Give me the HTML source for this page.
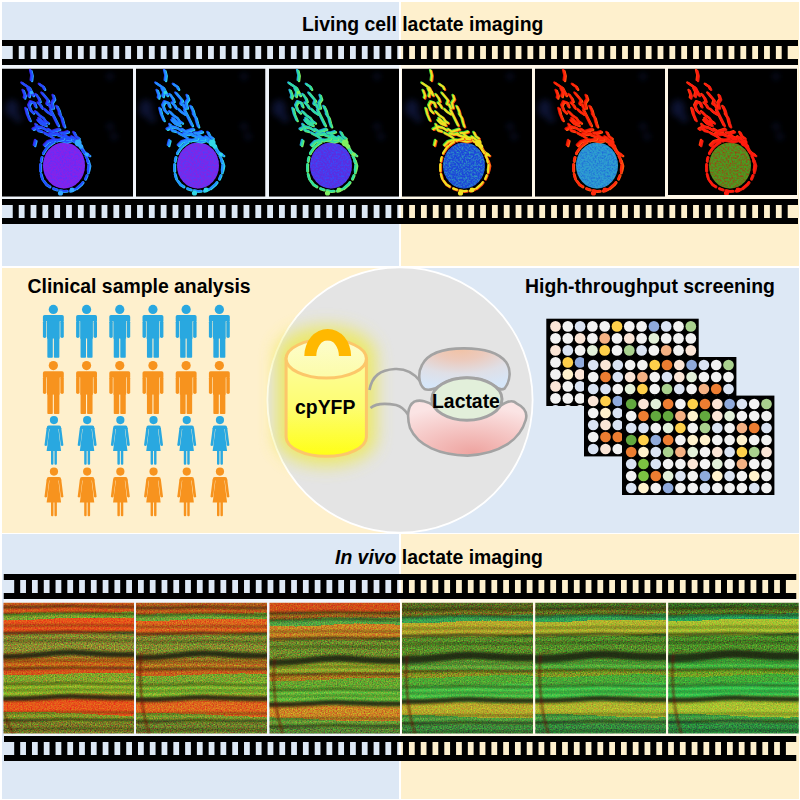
<!DOCTYPE html>
<html><head><meta charset="utf-8"><style>
html,body{margin:0;padding:0}
body{width:800px;height:800px;position:relative;overflow:hidden;background:#fff;font-family:'Liberation Sans', sans-serif}
</style></head><body>
<div style="position:absolute;left:1.5px;top:1.5px;width:397.5px;height:264.5px;background:#dde8f5;"></div>
<div style="position:absolute;left:401px;top:1.5px;width:398px;height:264.5px;background:#fef0cd;"></div>
<div style="position:absolute;left:1.5px;top:267.5px;width:397.5px;height:265.0px;background:#fef0cd;"></div>
<div style="position:absolute;left:401px;top:267.5px;width:398px;height:265.0px;background:#dde8f5;"></div>
<div style="position:absolute;left:1.5px;top:534px;width:397.5px;height:264.5px;background:#dde8f5;"></div>
<div style="position:absolute;left:401px;top:534px;width:398px;height:264.5px;background:#fef0cd;"></div>
<div style="position:absolute;left:2px;top:65.3px;width:796px;height:133.7px;background:rgba(255,255,255,0.55);"></div>
<div style="position:absolute;left:3.5px;top:598.6px;width:795.2px;height:137.39999999999998px;background:rgba(255,255,255,0.55);"></div>
<svg style="position:absolute;left:0;top:40.3px" width="800" height="25" viewBox="0 0 800 25"><rect x="2" y="0" width="796" height="6" fill="#000"/><rect x="2" y="19" width="796" height="6" fill="#000"/><rect x="12.75" y="5" width="6.0" height="15" fill="#000"/><rect x="24.58" y="5" width="6.0" height="15" fill="#000"/><rect x="36.41" y="5" width="6.0" height="15" fill="#000"/><rect x="48.24" y="5" width="6.0" height="15" fill="#000"/><rect x="60.07" y="5" width="6.0" height="15" fill="#000"/><rect x="71.90" y="5" width="6.0" height="15" fill="#000"/><rect x="83.73" y="5" width="6.0" height="15" fill="#000"/><rect x="95.56" y="5" width="6.0" height="15" fill="#000"/><rect x="107.39" y="5" width="6.0" height="15" fill="#000"/><rect x="119.22" y="5" width="6.0" height="15" fill="#000"/><rect x="131.05" y="5" width="6.0" height="15" fill="#000"/><rect x="142.88" y="5" width="6.0" height="15" fill="#000"/><rect x="154.71" y="5" width="6.0" height="15" fill="#000"/><rect x="166.54" y="5" width="6.0" height="15" fill="#000"/><rect x="178.37" y="5" width="6.0" height="15" fill="#000"/><rect x="190.20" y="5" width="6.0" height="15" fill="#000"/><rect x="202.03" y="5" width="6.0" height="15" fill="#000"/><rect x="213.86" y="5" width="6.0" height="15" fill="#000"/><rect x="225.69" y="5" width="6.0" height="15" fill="#000"/><rect x="237.52" y="5" width="6.0" height="15" fill="#000"/><rect x="249.35" y="5" width="6.0" height="15" fill="#000"/><rect x="261.18" y="5" width="6.0" height="15" fill="#000"/><rect x="273.01" y="5" width="6.0" height="15" fill="#000"/><rect x="284.84" y="5" width="6.0" height="15" fill="#000"/><rect x="296.67" y="5" width="6.0" height="15" fill="#000"/><rect x="308.50" y="5" width="6.0" height="15" fill="#000"/><rect x="320.33" y="5" width="6.0" height="15" fill="#000"/><rect x="332.16" y="5" width="6.0" height="15" fill="#000"/><rect x="343.99" y="5" width="6.0" height="15" fill="#000"/><rect x="355.82" y="5" width="6.0" height="15" fill="#000"/><rect x="367.65" y="5" width="6.0" height="15" fill="#000"/><rect x="379.48" y="5" width="6.0" height="15" fill="#000"/><rect x="391.31" y="5" width="6.0" height="15" fill="#000"/><rect x="403.14" y="5" width="6.0" height="15" fill="#000"/><rect x="414.97" y="5" width="6.0" height="15" fill="#000"/><rect x="426.80" y="5" width="6.0" height="15" fill="#000"/><rect x="438.63" y="5" width="6.0" height="15" fill="#000"/><rect x="450.46" y="5" width="6.0" height="15" fill="#000"/><rect x="462.29" y="5" width="6.0" height="15" fill="#000"/><rect x="474.12" y="5" width="6.0" height="15" fill="#000"/><rect x="485.95" y="5" width="6.0" height="15" fill="#000"/><rect x="497.78" y="5" width="6.0" height="15" fill="#000"/><rect x="509.61" y="5" width="6.0" height="15" fill="#000"/><rect x="521.44" y="5" width="6.0" height="15" fill="#000"/><rect x="533.27" y="5" width="6.0" height="15" fill="#000"/><rect x="545.10" y="5" width="6.0" height="15" fill="#000"/><rect x="556.93" y="5" width="6.0" height="15" fill="#000"/><rect x="568.76" y="5" width="6.0" height="15" fill="#000"/><rect x="580.59" y="5" width="6.0" height="15" fill="#000"/><rect x="592.42" y="5" width="6.0" height="15" fill="#000"/><rect x="604.25" y="5" width="6.0" height="15" fill="#000"/><rect x="616.08" y="5" width="6.0" height="15" fill="#000"/><rect x="627.91" y="5" width="6.0" height="15" fill="#000"/><rect x="639.74" y="5" width="6.0" height="15" fill="#000"/><rect x="651.57" y="5" width="6.0" height="15" fill="#000"/><rect x="663.40" y="5" width="6.0" height="15" fill="#000"/><rect x="675.23" y="5" width="6.0" height="15" fill="#000"/><rect x="687.06" y="5" width="6.0" height="15" fill="#000"/><rect x="698.89" y="5" width="6.0" height="15" fill="#000"/><rect x="710.72" y="5" width="6.0" height="15" fill="#000"/><rect x="722.55" y="5" width="6.0" height="15" fill="#000"/><rect x="734.38" y="5" width="6.0" height="15" fill="#000"/><rect x="746.21" y="5" width="6.0" height="15" fill="#000"/><rect x="758.04" y="5" width="6.0" height="15" fill="#000"/><rect x="769.87" y="5" width="6.0" height="15" fill="#000"/><rect x="781.70" y="5" width="6.0" height="15" fill="#000"/></svg>
<svg style="position:absolute;left:0;top:199px" width="800" height="25" viewBox="0 0 800 25"><rect x="2" y="0" width="796" height="6" fill="#000"/><rect x="2" y="19" width="796" height="6" fill="#000"/><rect x="12.75" y="5" width="6.0" height="15" fill="#000"/><rect x="24.58" y="5" width="6.0" height="15" fill="#000"/><rect x="36.41" y="5" width="6.0" height="15" fill="#000"/><rect x="48.24" y="5" width="6.0" height="15" fill="#000"/><rect x="60.07" y="5" width="6.0" height="15" fill="#000"/><rect x="71.90" y="5" width="6.0" height="15" fill="#000"/><rect x="83.73" y="5" width="6.0" height="15" fill="#000"/><rect x="95.56" y="5" width="6.0" height="15" fill="#000"/><rect x="107.39" y="5" width="6.0" height="15" fill="#000"/><rect x="119.22" y="5" width="6.0" height="15" fill="#000"/><rect x="131.05" y="5" width="6.0" height="15" fill="#000"/><rect x="142.88" y="5" width="6.0" height="15" fill="#000"/><rect x="154.71" y="5" width="6.0" height="15" fill="#000"/><rect x="166.54" y="5" width="6.0" height="15" fill="#000"/><rect x="178.37" y="5" width="6.0" height="15" fill="#000"/><rect x="190.20" y="5" width="6.0" height="15" fill="#000"/><rect x="202.03" y="5" width="6.0" height="15" fill="#000"/><rect x="213.86" y="5" width="6.0" height="15" fill="#000"/><rect x="225.69" y="5" width="6.0" height="15" fill="#000"/><rect x="237.52" y="5" width="6.0" height="15" fill="#000"/><rect x="249.35" y="5" width="6.0" height="15" fill="#000"/><rect x="261.18" y="5" width="6.0" height="15" fill="#000"/><rect x="273.01" y="5" width="6.0" height="15" fill="#000"/><rect x="284.84" y="5" width="6.0" height="15" fill="#000"/><rect x="296.67" y="5" width="6.0" height="15" fill="#000"/><rect x="308.50" y="5" width="6.0" height="15" fill="#000"/><rect x="320.33" y="5" width="6.0" height="15" fill="#000"/><rect x="332.16" y="5" width="6.0" height="15" fill="#000"/><rect x="343.99" y="5" width="6.0" height="15" fill="#000"/><rect x="355.82" y="5" width="6.0" height="15" fill="#000"/><rect x="367.65" y="5" width="6.0" height="15" fill="#000"/><rect x="379.48" y="5" width="6.0" height="15" fill="#000"/><rect x="391.31" y="5" width="6.0" height="15" fill="#000"/><rect x="403.14" y="5" width="6.0" height="15" fill="#000"/><rect x="414.97" y="5" width="6.0" height="15" fill="#000"/><rect x="426.80" y="5" width="6.0" height="15" fill="#000"/><rect x="438.63" y="5" width="6.0" height="15" fill="#000"/><rect x="450.46" y="5" width="6.0" height="15" fill="#000"/><rect x="462.29" y="5" width="6.0" height="15" fill="#000"/><rect x="474.12" y="5" width="6.0" height="15" fill="#000"/><rect x="485.95" y="5" width="6.0" height="15" fill="#000"/><rect x="497.78" y="5" width="6.0" height="15" fill="#000"/><rect x="509.61" y="5" width="6.0" height="15" fill="#000"/><rect x="521.44" y="5" width="6.0" height="15" fill="#000"/><rect x="533.27" y="5" width="6.0" height="15" fill="#000"/><rect x="545.10" y="5" width="6.0" height="15" fill="#000"/><rect x="556.93" y="5" width="6.0" height="15" fill="#000"/><rect x="568.76" y="5" width="6.0" height="15" fill="#000"/><rect x="580.59" y="5" width="6.0" height="15" fill="#000"/><rect x="592.42" y="5" width="6.0" height="15" fill="#000"/><rect x="604.25" y="5" width="6.0" height="15" fill="#000"/><rect x="616.08" y="5" width="6.0" height="15" fill="#000"/><rect x="627.91" y="5" width="6.0" height="15" fill="#000"/><rect x="639.74" y="5" width="6.0" height="15" fill="#000"/><rect x="651.57" y="5" width="6.0" height="15" fill="#000"/><rect x="663.40" y="5" width="6.0" height="15" fill="#000"/><rect x="675.23" y="5" width="6.0" height="15" fill="#000"/><rect x="687.06" y="5" width="6.0" height="15" fill="#000"/><rect x="698.89" y="5" width="6.0" height="15" fill="#000"/><rect x="710.72" y="5" width="6.0" height="15" fill="#000"/><rect x="722.55" y="5" width="6.0" height="15" fill="#000"/><rect x="734.38" y="5" width="6.0" height="15" fill="#000"/><rect x="746.21" y="5" width="6.0" height="15" fill="#000"/><rect x="758.04" y="5" width="6.0" height="15" fill="#000"/><rect x="769.87" y="5" width="6.0" height="15" fill="#000"/><rect x="781.70" y="5" width="6.0" height="15" fill="#000"/></svg>
<svg style="position:absolute;left:0;top:574.3px" width="800" height="25" viewBox="0 0 800 25"><rect x="3.75" y="0" width="792.5" height="6" fill="#000"/><rect x="3.75" y="19" width="792.5" height="6" fill="#000"/><rect x="14.20" y="5" width="6.0" height="15" fill="#000"/><rect x="25.98" y="5" width="6.0" height="15" fill="#000"/><rect x="37.76" y="5" width="6.0" height="15" fill="#000"/><rect x="49.54" y="5" width="6.0" height="15" fill="#000"/><rect x="61.32" y="5" width="6.0" height="15" fill="#000"/><rect x="73.10" y="5" width="6.0" height="15" fill="#000"/><rect x="84.88" y="5" width="6.0" height="15" fill="#000"/><rect x="96.66" y="5" width="6.0" height="15" fill="#000"/><rect x="108.44" y="5" width="6.0" height="15" fill="#000"/><rect x="120.22" y="5" width="6.0" height="15" fill="#000"/><rect x="132.00" y="5" width="6.0" height="15" fill="#000"/><rect x="143.78" y="5" width="6.0" height="15" fill="#000"/><rect x="155.56" y="5" width="6.0" height="15" fill="#000"/><rect x="167.34" y="5" width="6.0" height="15" fill="#000"/><rect x="179.12" y="5" width="6.0" height="15" fill="#000"/><rect x="190.90" y="5" width="6.0" height="15" fill="#000"/><rect x="202.68" y="5" width="6.0" height="15" fill="#000"/><rect x="214.46" y="5" width="6.0" height="15" fill="#000"/><rect x="226.24" y="5" width="6.0" height="15" fill="#000"/><rect x="238.02" y="5" width="6.0" height="15" fill="#000"/><rect x="249.80" y="5" width="6.0" height="15" fill="#000"/><rect x="261.58" y="5" width="6.0" height="15" fill="#000"/><rect x="273.36" y="5" width="6.0" height="15" fill="#000"/><rect x="285.14" y="5" width="6.0" height="15" fill="#000"/><rect x="296.92" y="5" width="6.0" height="15" fill="#000"/><rect x="308.70" y="5" width="6.0" height="15" fill="#000"/><rect x="320.48" y="5" width="6.0" height="15" fill="#000"/><rect x="332.26" y="5" width="6.0" height="15" fill="#000"/><rect x="344.04" y="5" width="6.0" height="15" fill="#000"/><rect x="355.82" y="5" width="6.0" height="15" fill="#000"/><rect x="367.60" y="5" width="6.0" height="15" fill="#000"/><rect x="379.38" y="5" width="6.0" height="15" fill="#000"/><rect x="391.16" y="5" width="6.0" height="15" fill="#000"/><rect x="402.94" y="5" width="6.0" height="15" fill="#000"/><rect x="414.72" y="5" width="6.0" height="15" fill="#000"/><rect x="426.50" y="5" width="6.0" height="15" fill="#000"/><rect x="438.28" y="5" width="6.0" height="15" fill="#000"/><rect x="450.06" y="5" width="6.0" height="15" fill="#000"/><rect x="461.84" y="5" width="6.0" height="15" fill="#000"/><rect x="473.62" y="5" width="6.0" height="15" fill="#000"/><rect x="485.40" y="5" width="6.0" height="15" fill="#000"/><rect x="497.18" y="5" width="6.0" height="15" fill="#000"/><rect x="508.96" y="5" width="6.0" height="15" fill="#000"/><rect x="520.74" y="5" width="6.0" height="15" fill="#000"/><rect x="532.52" y="5" width="6.0" height="15" fill="#000"/><rect x="544.30" y="5" width="6.0" height="15" fill="#000"/><rect x="556.08" y="5" width="6.0" height="15" fill="#000"/><rect x="567.86" y="5" width="6.0" height="15" fill="#000"/><rect x="579.64" y="5" width="6.0" height="15" fill="#000"/><rect x="591.42" y="5" width="6.0" height="15" fill="#000"/><rect x="603.20" y="5" width="6.0" height="15" fill="#000"/><rect x="614.98" y="5" width="6.0" height="15" fill="#000"/><rect x="626.76" y="5" width="6.0" height="15" fill="#000"/><rect x="638.54" y="5" width="6.0" height="15" fill="#000"/><rect x="650.32" y="5" width="6.0" height="15" fill="#000"/><rect x="662.10" y="5" width="6.0" height="15" fill="#000"/><rect x="673.88" y="5" width="6.0" height="15" fill="#000"/><rect x="685.66" y="5" width="6.0" height="15" fill="#000"/><rect x="697.44" y="5" width="6.0" height="15" fill="#000"/><rect x="709.22" y="5" width="6.0" height="15" fill="#000"/><rect x="721.00" y="5" width="6.0" height="15" fill="#000"/><rect x="732.78" y="5" width="6.0" height="15" fill="#000"/><rect x="744.56" y="5" width="6.0" height="15" fill="#000"/><rect x="756.34" y="5" width="6.0" height="15" fill="#000"/><rect x="768.12" y="5" width="6.0" height="15" fill="#000"/><rect x="779.90" y="5" width="6.0" height="15" fill="#000"/></svg>
<svg style="position:absolute;left:0;top:736px" width="800" height="25" viewBox="0 0 800 25"><rect x="4" y="0" width="792.25" height="6" fill="#000"/><rect x="4" y="19" width="792.25" height="6" fill="#000"/><rect x="14.20" y="5" width="6.0" height="15" fill="#000"/><rect x="25.98" y="5" width="6.0" height="15" fill="#000"/><rect x="37.76" y="5" width="6.0" height="15" fill="#000"/><rect x="49.54" y="5" width="6.0" height="15" fill="#000"/><rect x="61.32" y="5" width="6.0" height="15" fill="#000"/><rect x="73.10" y="5" width="6.0" height="15" fill="#000"/><rect x="84.88" y="5" width="6.0" height="15" fill="#000"/><rect x="96.66" y="5" width="6.0" height="15" fill="#000"/><rect x="108.44" y="5" width="6.0" height="15" fill="#000"/><rect x="120.22" y="5" width="6.0" height="15" fill="#000"/><rect x="132.00" y="5" width="6.0" height="15" fill="#000"/><rect x="143.78" y="5" width="6.0" height="15" fill="#000"/><rect x="155.56" y="5" width="6.0" height="15" fill="#000"/><rect x="167.34" y="5" width="6.0" height="15" fill="#000"/><rect x="179.12" y="5" width="6.0" height="15" fill="#000"/><rect x="190.90" y="5" width="6.0" height="15" fill="#000"/><rect x="202.68" y="5" width="6.0" height="15" fill="#000"/><rect x="214.46" y="5" width="6.0" height="15" fill="#000"/><rect x="226.24" y="5" width="6.0" height="15" fill="#000"/><rect x="238.02" y="5" width="6.0" height="15" fill="#000"/><rect x="249.80" y="5" width="6.0" height="15" fill="#000"/><rect x="261.58" y="5" width="6.0" height="15" fill="#000"/><rect x="273.36" y="5" width="6.0" height="15" fill="#000"/><rect x="285.14" y="5" width="6.0" height="15" fill="#000"/><rect x="296.92" y="5" width="6.0" height="15" fill="#000"/><rect x="308.70" y="5" width="6.0" height="15" fill="#000"/><rect x="320.48" y="5" width="6.0" height="15" fill="#000"/><rect x="332.26" y="5" width="6.0" height="15" fill="#000"/><rect x="344.04" y="5" width="6.0" height="15" fill="#000"/><rect x="355.82" y="5" width="6.0" height="15" fill="#000"/><rect x="367.60" y="5" width="6.0" height="15" fill="#000"/><rect x="379.38" y="5" width="6.0" height="15" fill="#000"/><rect x="391.16" y="5" width="6.0" height="15" fill="#000"/><rect x="402.94" y="5" width="6.0" height="15" fill="#000"/><rect x="414.72" y="5" width="6.0" height="15" fill="#000"/><rect x="426.50" y="5" width="6.0" height="15" fill="#000"/><rect x="438.28" y="5" width="6.0" height="15" fill="#000"/><rect x="450.06" y="5" width="6.0" height="15" fill="#000"/><rect x="461.84" y="5" width="6.0" height="15" fill="#000"/><rect x="473.62" y="5" width="6.0" height="15" fill="#000"/><rect x="485.40" y="5" width="6.0" height="15" fill="#000"/><rect x="497.18" y="5" width="6.0" height="15" fill="#000"/><rect x="508.96" y="5" width="6.0" height="15" fill="#000"/><rect x="520.74" y="5" width="6.0" height="15" fill="#000"/><rect x="532.52" y="5" width="6.0" height="15" fill="#000"/><rect x="544.30" y="5" width="6.0" height="15" fill="#000"/><rect x="556.08" y="5" width="6.0" height="15" fill="#000"/><rect x="567.86" y="5" width="6.0" height="15" fill="#000"/><rect x="579.64" y="5" width="6.0" height="15" fill="#000"/><rect x="591.42" y="5" width="6.0" height="15" fill="#000"/><rect x="603.20" y="5" width="6.0" height="15" fill="#000"/><rect x="614.98" y="5" width="6.0" height="15" fill="#000"/><rect x="626.76" y="5" width="6.0" height="15" fill="#000"/><rect x="638.54" y="5" width="6.0" height="15" fill="#000"/><rect x="650.32" y="5" width="6.0" height="15" fill="#000"/><rect x="662.10" y="5" width="6.0" height="15" fill="#000"/><rect x="673.88" y="5" width="6.0" height="15" fill="#000"/><rect x="685.66" y="5" width="6.0" height="15" fill="#000"/><rect x="697.44" y="5" width="6.0" height="15" fill="#000"/><rect x="709.22" y="5" width="6.0" height="15" fill="#000"/><rect x="721.00" y="5" width="6.0" height="15" fill="#000"/><rect x="732.78" y="5" width="6.0" height="15" fill="#000"/><rect x="744.56" y="5" width="6.0" height="15" fill="#000"/><rect x="756.34" y="5" width="6.0" height="15" fill="#000"/><rect x="768.12" y="5" width="6.0" height="15" fill="#000"/><rect x="779.90" y="5" width="6.0" height="15" fill="#000"/></svg>
<svg style="position:absolute;left:0;top:0" width="800" height="800"><defs><filter id="mblur" x="-10%" y="-10%" width="120%" height="120%"><feGaussianBlur stdDeviation="0.45"/></filter><filter id="bblur" x="-50%" y="-50%" width="200%" height="200%"><feGaussianBlur stdDeviation="3"/></filter><filter id="speck" x="0" y="0" width="100%" height="100%"><feTurbulence type="fractalNoise" baseFrequency="0.55" numOctaves="2" seed="3" result="n"/><feColorMatrix in="n" type="matrix" values="0 0 0 0 0  0 0 0 0 0  0 0 0 0 0  0 0 0 -2.2 1.35"/><feComposite in="SourceGraphic" operator="in"/></filter><path id="mito" d="M28.75,2 L30,7 L29.4,12 M20,14.5 L23.75,17 L27.5,19.5 L30,24.5 L31.25,27 M37.5,15.75 L41.25,18.25 L42.5,20.75 M21.25,22 L23.1,27 L22.5,29.5 M40,24.5 L43.1,28.25 L46.25,32 L45,35.75 M51.25,27 L52.5,30.75 L50,34.5 L51.25,39.5 M32.5,34.5 L28.75,33.25 L26.9,37 L28.75,42 L31.25,44.5 M32.5,34.5 L33.75,38.25 M36.25,34.5 L38.75,37 L40,39.5 M33.75,43.25 L37.5,47 L41.25,49.5 L43.75,53.25 L46.25,54.5 M42.5,40.75 L45,43.25 L48.75,45.75 M48.75,42 L51.25,47 L53.75,52 L56.25,57 M57.5,45.75 L60,49.5 L61.25,54.5 L62.5,58.25 M31.25,60.75 L36.25,58.25 L41.25,59.5 L45,62 M46.25,60.75 L50,63.25 L53.75,62 L57.5,60.75 M42.5,64.5 L47.5,67 L51.25,69.5 M58.75,64.5 L62.5,64.5 L66.25,63.25 M70,68.25 L75,72 L78.75,77 L81.25,82 L85,85.75 L87.5,87 M42.5,77 L46.25,73.25 L52.5,71.4 L58.75,72 L65,73.25 L70,72 M33.75,72 L32.5,77 M24,40 L25.5,46 L28,52 M36,52 L39,55 L44,57 M55,66 L60,68 L64,69 M47,36 L49,40 M26,20 L28,24 L27,28 M34,26 L37,30 L38,33 M55,38 L57,42 L58,46 M37,50 L40,53 L43,55 M48,65 L52,66 L56,65 M62,66 L66,69 L70,70 M72,64 L74,68 L77,70 M86,92 L87.5,97 L86.5,102 M34,56 L36,62 L40,63"/><path id="ring" d="M86.6,97.0 L85.89,103.92 L83.18,110.23 L79.21,115.63 L74.2,119.86 L68.25,122.27 L62.0,122.6 L55.95,121.52 L50.0,119.52 L44.39,116.03 L40.22,110.57 L38.31,103.86 L38.2,97.0 L39.13,90.36 L41.26,84.03 L44.99,78.57 L50.0,74.48 L55.73,71.66 L62.0,70.2 L68.47,70.91 L74.2,74.14 L78.61,78.97 L82.14,84.37 L85.07,90.3 Z"/></defs><svg x="2" y="68.5" width="131" height="128.2" overflow="hidden"><rect width="131" height="128.2" fill="#000"/><g fill="#1a2a70" opacity="0.45" filter="url(#bblur)"><ellipse cx="10" cy="40" rx="7" ry="9"/><circle cx="16" cy="50" r="4"/><circle cx="108" cy="58" r="3"/><circle cx="112" cy="68" r="3"/><circle cx="108" cy="8" r="3"/></g><ellipse cx="62" cy="97" rx="21" ry="23" fill="#8622e8"/><ellipse cx="62" cy="97" rx="21" ry="23" fill="#5a30ff" filter="url(#speck)"/><g filter="url(#mblur)" fill="none" stroke-linecap="round" stroke-linejoin="round"><use href="#mito" stroke="#30a8ff" stroke-width="2.4" transform="translate(0.7,0.6)"/><use href="#mito" stroke="#3a20e0" stroke-width="2.4" transform="translate(-0.7,-0.6)"/><use href="#mito" stroke="#2050ff" stroke-width="1.9"/><use href="#ring" stroke="#30a8ff" stroke-width="2.8" stroke-dasharray="7 3 4 4 9 2 5 3" transform="translate(0.5,0.5)"/><use href="#ring" stroke="#2050ff" stroke-width="2.2" stroke-dasharray="7 3 4 4 9 2 5 3"/><circle cx="76.25" cy="74.5" r="3.4" fill="#30a8ff" stroke="none"/><circle cx="58.5" cy="124.5" r="2.6" fill="#30a8ff" stroke="none"/><circle cx="70" cy="121.5" r="2.4" fill="#30a8ff" stroke="none"/><circle cx="85" cy="86" r="2.0" fill="#30a8ff" stroke="none"/><circle cx="29.4" cy="24" r="1.8" fill="#30a8ff" stroke="none"/><circle cx="79" cy="78" r="2.2" fill="#30a8ff" stroke="none"/></g></svg><svg x="136" y="68.5" width="129.5" height="128.2" overflow="hidden"><rect width="129.5" height="128.2" fill="#000"/><g fill="#1a2a70" opacity="0.45" filter="url(#bblur)"><ellipse cx="10" cy="40" rx="7" ry="9"/><circle cx="16" cy="50" r="4"/><circle cx="108" cy="58" r="3"/><circle cx="112" cy="68" r="3"/><circle cx="108" cy="8" r="3"/></g><ellipse cx="62" cy="97" rx="21" ry="23" fill="#7e26e6"/><ellipse cx="62" cy="97" rx="21" ry="23" fill="#4a40ff" filter="url(#speck)"/><g filter="url(#mblur)" fill="none" stroke-linecap="round" stroke-linejoin="round"><use href="#mito" stroke="#30d8e8" stroke-width="2.4" transform="translate(0.7,0.6)"/><use href="#mito" stroke="#2050ff" stroke-width="2.4" transform="translate(-0.7,-0.6)"/><use href="#mito" stroke="#2290ff" stroke-width="1.9"/><use href="#ring" stroke="#30d8e8" stroke-width="2.8" stroke-dasharray="7 3 4 4 9 2 5 3" transform="translate(0.5,0.5)"/><use href="#ring" stroke="#2290ff" stroke-width="2.2" stroke-dasharray="7 3 4 4 9 2 5 3"/><circle cx="76.25" cy="74.5" r="3.4" fill="#30d8e8" stroke="none"/><circle cx="58.5" cy="124.5" r="2.6" fill="#30d8e8" stroke="none"/><circle cx="70" cy="121.5" r="2.4" fill="#30d8e8" stroke="none"/><circle cx="85" cy="86" r="2.0" fill="#30d8e8" stroke="none"/><circle cx="29.4" cy="24" r="1.8" fill="#30d8e8" stroke="none"/><circle cx="79" cy="78" r="2.2" fill="#30d8e8" stroke="none"/></g></svg><svg x="269" y="68.5" width="130" height="128.2" overflow="hidden"><rect width="130" height="128.2" fill="#000"/><g fill="#1a2a70" opacity="0.45" filter="url(#bblur)"><ellipse cx="10" cy="40" rx="7" ry="9"/><circle cx="16" cy="50" r="4"/><circle cx="108" cy="58" r="3"/><circle cx="112" cy="68" r="3"/><circle cx="108" cy="8" r="3"/></g><ellipse cx="62" cy="97" rx="21" ry="23" fill="#5a2ee0"/><ellipse cx="62" cy="97" rx="21" ry="23" fill="#3050ff" filter="url(#speck)"/><g filter="url(#mblur)" fill="none" stroke-linecap="round" stroke-linejoin="round"><use href="#mito" stroke="#80f060" stroke-width="2.4" transform="translate(0.7,0.6)"/><use href="#mito" stroke="#20a0e0" stroke-width="2.4" transform="translate(-0.7,-0.6)"/><use href="#mito" stroke="#30e0a0" stroke-width="1.9"/><use href="#ring" stroke="#80f060" stroke-width="2.8" stroke-dasharray="7 3 4 4 9 2 5 3" transform="translate(0.5,0.5)"/><use href="#ring" stroke="#30e0a0" stroke-width="2.2" stroke-dasharray="7 3 4 4 9 2 5 3"/><circle cx="76.25" cy="74.5" r="3.4" fill="#80f060" stroke="none"/><circle cx="58.5" cy="124.5" r="2.6" fill="#80f060" stroke="none"/><circle cx="70" cy="121.5" r="2.4" fill="#80f060" stroke="none"/><circle cx="85" cy="86" r="2.0" fill="#80f060" stroke="none"/><circle cx="29.4" cy="24" r="1.8" fill="#80f060" stroke="none"/><circle cx="79" cy="78" r="2.2" fill="#80f060" stroke="none"/></g></svg><svg x="402" y="68.5" width="130" height="128.2" overflow="hidden"><rect width="130" height="128.2" fill="#000"/><g fill="#1a2a70" opacity="0.45" filter="url(#bblur)"><ellipse cx="10" cy="40" rx="7" ry="9"/><circle cx="16" cy="50" r="4"/><circle cx="108" cy="58" r="3"/><circle cx="112" cy="68" r="3"/><circle cx="108" cy="8" r="3"/></g><ellipse cx="62" cy="97" rx="21" ry="23" fill="#1c46d8"/><ellipse cx="62" cy="97" rx="21" ry="23" fill="#30a0c0" filter="url(#speck)"/><g filter="url(#mblur)" fill="none" stroke-linecap="round" stroke-linejoin="round"><use href="#mito" stroke="#ff4810" stroke-width="2.4" transform="translate(0.7,0.6)"/><use href="#mito" stroke="#40e040" stroke-width="2.4" transform="translate(-0.7,-0.6)"/><use href="#mito" stroke="#f0e020" stroke-width="1.9"/><use href="#ring" stroke="#ff4810" stroke-width="2.8" stroke-dasharray="7 3 4 4 9 2 5 3" transform="translate(0.5,0.5)"/><use href="#ring" stroke="#f0e020" stroke-width="2.2" stroke-dasharray="7 3 4 4 9 2 5 3"/><circle cx="76.25" cy="74.5" r="3.4" fill="#f0e020" stroke="none"/><circle cx="58.5" cy="124.5" r="2.6" fill="#f0e020" stroke="none"/><circle cx="70" cy="121.5" r="2.4" fill="#f0e020" stroke="none"/><circle cx="85" cy="86" r="2.0" fill="#f0e020" stroke="none"/><circle cx="29.4" cy="24" r="1.8" fill="#f0e020" stroke="none"/><circle cx="79" cy="78" r="2.2" fill="#f0e020" stroke="none"/></g></svg><svg x="535" y="68.5" width="130" height="128.2" overflow="hidden"><rect width="130" height="128.2" fill="#000"/><g fill="#1a2a70" opacity="0.45" filter="url(#bblur)"><ellipse cx="10" cy="40" rx="7" ry="9"/><circle cx="16" cy="50" r="4"/><circle cx="108" cy="58" r="3"/><circle cx="112" cy="68" r="3"/><circle cx="108" cy="8" r="3"/></g><ellipse cx="62" cy="97" rx="21" ry="23" fill="#2e9ed0"/><ellipse cx="62" cy="97" rx="21" ry="23" fill="#1e6ad8" filter="url(#speck)"/><g filter="url(#mblur)" fill="none" stroke-linecap="round" stroke-linejoin="round"><use href="#mito" stroke="#ff5a10" stroke-width="2.4" transform="translate(0.7,0.6)"/><use href="#mito" stroke="#e01000" stroke-width="2.4" transform="translate(-0.7,-0.6)"/><use href="#mito" stroke="#ff2a08" stroke-width="1.9"/><use href="#ring" stroke="#ff5a10" stroke-width="2.8" stroke-dasharray="7 3 4 4 9 2 5 3" transform="translate(0.5,0.5)"/><use href="#ring" stroke="#ff2a08" stroke-width="2.2" stroke-dasharray="7 3 4 4 9 2 5 3"/><circle cx="76.25" cy="74.5" r="3.4" fill="#ff2a08" stroke="none"/><circle cx="58.5" cy="124.5" r="2.6" fill="#ff2a08" stroke="none"/><circle cx="70" cy="121.5" r="2.4" fill="#ff2a08" stroke="none"/><circle cx="85" cy="86" r="2.0" fill="#ff2a08" stroke="none"/><circle cx="29.4" cy="24" r="1.8" fill="#ff2a08" stroke="none"/><circle cx="79" cy="78" r="2.2" fill="#ff2a08" stroke="none"/></g></svg><svg x="668" y="68.5" width="129" height="126.5" overflow="hidden"><rect width="129" height="126.5" fill="#000"/><g fill="#1a2a70" opacity="0.45" filter="url(#bblur)"><ellipse cx="10" cy="40" rx="7" ry="9"/><circle cx="16" cy="50" r="4"/><circle cx="108" cy="58" r="3"/><circle cx="112" cy="68" r="3"/><circle cx="108" cy="8" r="3"/></g><ellipse cx="62" cy="97" rx="21" ry="23" fill="#4a9a22"/><ellipse cx="62" cy="97" rx="21" ry="23" fill="#a04010" filter="url(#speck)"/><g filter="url(#mblur)" fill="none" stroke-linecap="round" stroke-linejoin="round"><use href="#mito" stroke="#e02010" stroke-width="2.4" transform="translate(0.7,0.6)"/><use href="#mito" stroke="#ff3a10" stroke-width="2.4" transform="translate(-0.7,-0.6)"/><use href="#mito" stroke="#ff1a08" stroke-width="1.9"/><use href="#ring" stroke="#e02010" stroke-width="2.8" stroke-dasharray="7 3 4 4 9 2 5 3" transform="translate(0.5,0.5)"/><use href="#ring" stroke="#ff1a08" stroke-width="2.2" stroke-dasharray="7 3 4 4 9 2 5 3"/><circle cx="76.25" cy="74.5" r="3.4" fill="#ff1a08" stroke="none"/><circle cx="58.5" cy="124.5" r="2.6" fill="#ff1a08" stroke="none"/><circle cx="70" cy="121.5" r="2.4" fill="#ff1a08" stroke="none"/><circle cx="85" cy="86" r="2.0" fill="#ff1a08" stroke="none"/><circle cx="29.4" cy="24" r="1.8" fill="#ff1a08" stroke="none"/><circle cx="79" cy="78" r="2.2" fill="#ff1a08" stroke="none"/></g></svg></svg>
<svg style="position:absolute;left:0;top:0" width="800" height="800"><defs><filter id="tnoise" x="0" y="0" width="100%" height="100%" color-interpolation-filters="sRGB"><feTurbulence type="fractalNoise" baseFrequency="0.006 0.04" numOctaves="2" seed="11" result="w"/><feDisplacementMap in="SourceGraphic" in2="w" scale="12" xChannelSelector="R" yChannelSelector="G" result="d"/><feTurbulence type="fractalNoise" baseFrequency="0.75" numOctaves="2" seed="7" result="n"/><feColorMatrix in="n" type="matrix" values="0.85 0 0 0 0.075  0 0.85 0 0 0.075  0 0 0 0 0.5  0 0 0 0 1" result="cn"/><feBlend in="cn" in2="d" mode="overlay"/></filter><filter id="dblur" x="-5%" y="-50%" width="110%" height="200%"><feGaussianBlur stdDeviation="0.9"/></filter><linearGradient id="tg0b" gradientUnits="userSpaceOnUse" x1="0" y1="0" x2="0" y2="130.75"><stop offset="0.0000" stop-color="#c85a1a"/><stop offset="0.0272" stop-color="#c85a1a"/><stop offset="0.0348" stop-color="#d8581a"/><stop offset="0.0784" stop-color="#d8581a"/><stop offset="0.0876" stop-color="#7aa42e"/><stop offset="0.1289" stop-color="#7aa42e"/><stop offset="0.1289" stop-color="#e6541a"/><stop offset="0.2222" stop-color="#e6541a"/><stop offset="0.2352" stop-color="#8a8a2e"/><stop offset="0.3690" stop-color="#8a8a2e"/><stop offset="0.4264" stop-color="#cc6a1a"/><stop offset="0.4945" stop-color="#cc6a1a"/><stop offset="0.5052" stop-color="#d4561a"/><stop offset="0.5526" stop-color="#d4561a"/><stop offset="0.5526" stop-color="#84a02a"/><stop offset="0.6153" stop-color="#84a02a"/><stop offset="0.6260" stop-color="#94b82a"/><stop offset="0.7025" stop-color="#94b82a"/><stop offset="0.7461" stop-color="#e6561a"/><stop offset="0.8371" stop-color="#e6561a"/><stop offset="0.8371" stop-color="#8a9a28"/><stop offset="0.8906" stop-color="#8a9a28"/><stop offset="0.9029" stop-color="#7a7a26"/><stop offset="1.0000" stop-color="#7a7a26"/></linearGradient><linearGradient id="tg1b" gradientUnits="userSpaceOnUse" x1="0" y1="0" x2="0" y2="130.75"><stop offset="0.0076" stop-color="#b35c1b"/><stop offset="0.0348" stop-color="#b35c1b"/><stop offset="0.0424" stop-color="#c55d1b"/><stop offset="0.0860" stop-color="#c55d1b"/><stop offset="0.0952" stop-color="#6ea335"/><stop offset="0.1365" stop-color="#6ea335"/><stop offset="0.1365" stop-color="#dd641d"/><stop offset="0.2298" stop-color="#dd641d"/><stop offset="0.2428" stop-color="#818a2d"/><stop offset="0.3767" stop-color="#818a2d"/><stop offset="0.4340" stop-color="#b87620"/><stop offset="0.5021" stop-color="#b87620"/><stop offset="0.5128" stop-color="#c5611c"/><stop offset="0.5602" stop-color="#c5611c"/><stop offset="0.5602" stop-color="#7aa12c"/><stop offset="0.6229" stop-color="#7aa12c"/><stop offset="0.6337" stop-color="#87bb30"/><stop offset="0.7101" stop-color="#87bb30"/><stop offset="0.7537" stop-color="#dd661d"/><stop offset="0.8447" stop-color="#dd661d"/><stop offset="0.8447" stop-color="#809b2c"/><stop offset="0.8983" stop-color="#809b2c"/><stop offset="0.9105" stop-color="#6f7d2a"/><stop offset="1.0000" stop-color="#6f7d2a"/></linearGradient><linearGradient id="tg2b" gradientUnits="userSpaceOnUse" x1="0" y1="0" x2="0" y2="130.75"><stop offset="0.0459" stop-color="#d0501a"/><stop offset="0.0730" stop-color="#d0501a"/><stop offset="0.0807" stop-color="#9f671e"/><stop offset="0.1243" stop-color="#9f671e"/><stop offset="0.1335" stop-color="#55a242"/><stop offset="0.1748" stop-color="#55a242"/><stop offset="0.1748" stop-color="#ca8524"/><stop offset="0.2681" stop-color="#ca8524"/><stop offset="0.2811" stop-color="#6f8b2b"/><stop offset="0.4149" stop-color="#6f8b2b"/><stop offset="0.4723" stop-color="#98a82a"/><stop offset="0.5403" stop-color="#98a82a"/><stop offset="0.5511" stop-color="#a8781e"/><stop offset="0.5985" stop-color="#a8781e"/><stop offset="0.5985" stop-color="#66a32f"/><stop offset="0.6612" stop-color="#66a32f"/><stop offset="0.6719" stop-color="#6cc13b"/><stop offset="0.7484" stop-color="#6cc13b"/><stop offset="0.7920" stop-color="#ca8624"/><stop offset="0.8830" stop-color="#ca8624"/><stop offset="0.8830" stop-color="#6a9d35"/><stop offset="0.9365" stop-color="#6a9d35"/><stop offset="0.9488" stop-color="#588232"/><stop offset="1.0000" stop-color="#588232"/></linearGradient><linearGradient id="tg3b" gradientUnits="userSpaceOnUse" x1="0" y1="0" x2="0" y2="130.75"><stop offset="0.0229" stop-color="#596620"/><stop offset="0.0501" stop-color="#596620"/><stop offset="0.0577" stop-color="#767320"/><stop offset="0.1013" stop-color="#767320"/><stop offset="0.1105" stop-color="#3aa150"/><stop offset="0.1518" stop-color="#3aa150"/><stop offset="0.1518" stop-color="#b6a82b"/><stop offset="0.2451" stop-color="#b6a82b"/><stop offset="0.2581" stop-color="#5b8c29"/><stop offset="0.3920" stop-color="#5b8c29"/><stop offset="0.4493" stop-color="#65a738"/><stop offset="0.5174" stop-color="#65a738"/><stop offset="0.5281" stop-color="#889122"/><stop offset="0.5755" stop-color="#889122"/><stop offset="0.5755" stop-color="#51a533"/><stop offset="0.6382" stop-color="#51a533"/><stop offset="0.6489" stop-color="#4fc848"/><stop offset="0.7254" stop-color="#4fc848"/><stop offset="0.7690" stop-color="#b6a92b"/><stop offset="0.8600" stop-color="#b6a92b"/><stop offset="0.8600" stop-color="#539f3e"/><stop offset="0.9136" stop-color="#539f3e"/><stop offset="0.9258" stop-color="#3f883a"/><stop offset="1.0000" stop-color="#3f883a"/></linearGradient><linearGradient id="tg4b" gradientUnits="userSpaceOnUse" x1="0" y1="0" x2="0" y2="130.75"><stop offset="0.0153" stop-color="#4b6821"/><stop offset="0.0424" stop-color="#4b6821"/><stop offset="0.0501" stop-color="#697621"/><stop offset="0.0937" stop-color="#697621"/><stop offset="0.1029" stop-color="#32a055"/><stop offset="0.1442" stop-color="#32a055"/><stop offset="0.1442" stop-color="#afb32d"/><stop offset="0.2375" stop-color="#afb32d"/><stop offset="0.2505" stop-color="#558c29"/><stop offset="0.3843" stop-color="#558c29"/><stop offset="0.4417" stop-color="#58af3b"/><stop offset="0.5098" stop-color="#58af3b"/><stop offset="0.5205" stop-color="#7e9923"/><stop offset="0.5679" stop-color="#7e9923"/><stop offset="0.5679" stop-color="#4aa535"/><stop offset="0.6306" stop-color="#4aa535"/><stop offset="0.6413" stop-color="#47ca4b"/><stop offset="0.7178" stop-color="#47ca4b"/><stop offset="0.7614" stop-color="#afb32d"/><stop offset="0.8524" stop-color="#afb32d"/><stop offset="0.8524" stop-color="#4c9f41"/><stop offset="0.9059" stop-color="#4c9f41"/><stop offset="0.9182" stop-color="#378a3d"/><stop offset="1.0000" stop-color="#378a3d"/></linearGradient><linearGradient id="tg5b" gradientUnits="userSpaceOnUse" x1="0" y1="0" x2="0" y2="130.75"><stop offset="0.0115" stop-color="#3a6a22"/><stop offset="0.0386" stop-color="#3a6a22"/><stop offset="0.0463" stop-color="#5a7a22"/><stop offset="0.0899" stop-color="#5a7a22"/><stop offset="0.0990" stop-color="#28a05a"/><stop offset="0.1403" stop-color="#28a05a"/><stop offset="0.1403" stop-color="#a8c030"/><stop offset="0.2337" stop-color="#a8c030"/><stop offset="0.2467" stop-color="#4e8c28"/><stop offset="0.3805" stop-color="#4e8c28"/><stop offset="0.4379" stop-color="#48b840"/><stop offset="0.5059" stop-color="#48b840"/><stop offset="0.5166" stop-color="#72a224"/><stop offset="0.5641" stop-color="#72a224"/><stop offset="0.5641" stop-color="#42a636"/><stop offset="0.6268" stop-color="#42a636"/><stop offset="0.6375" stop-color="#3ccc50"/><stop offset="0.7140" stop-color="#3ccc50"/><stop offset="0.7576" stop-color="#a8c030"/><stop offset="0.8486" stop-color="#a8c030"/><stop offset="0.8486" stop-color="#44a044"/><stop offset="0.9021" stop-color="#44a044"/><stop offset="0.9143" stop-color="#2e8c40"/><stop offset="1.0000" stop-color="#2e8c40"/></linearGradient></defs><svg x="3.5" y="602.75" width="130.5" height="130.75" overflow="hidden"><rect x="-6" y="-6" width="142.5" height="142.75" fill="url(#tg0b)" filter="url(#tnoise)"/><g filter="url(#dblur)" fill="none" stroke="#141c0c"><path d="M-5,4.65 C39.1,4.65 52.2,3.15 71.8,3.45 S110.9,4.35 135.5,4.05" stroke-width="1.6" opacity="0.85"/><path d="M-5,11.65 C39.1,11.65 52.2,9.65 71.8,10.05 S110.9,11.25 135.5,10.85" stroke-width="1.6" opacity="0.85"/><path d="M-5,30.45 C39.1,30.45 52.2,28.95 71.8,29.25 S110.9,30.15 135.5,29.85" stroke-width="2.2" opacity="0.85"/><path d="M-5,54.05 C39.1,54.05 52.2,48.55 71.8,49.65 S110.9,52.95 135.5,51.85" stroke-width="5.5" opacity="0.85"/><path d="M-5,65.95 C39.1,65.95 52.2,64.45 71.8,64.75 S110.9,65.65 135.5,65.35" stroke-width="1.6" opacity="0.85"/><path d="M-5,81.75 C39.1,81.75 52.2,80.25 71.8,80.55 S110.9,81.45 135.5,81.15" stroke-width="1.6" opacity="0.85"/><path d="M-5,96.05 C39.1,96.05 52.2,93.05 71.8,93.65 S110.9,95.45 135.5,94.85" stroke-width="5.0" opacity="0.85"/><path d="M-5,117.85 C39.1,117.85 52.2,116.35 71.8,116.65 S110.9,117.55 135.5,117.25" stroke-width="2.0" opacity="0.85"/><path d="M-5,38.35 C39.1,38.35 52.2,37.60 71.8,37.75 S110.9,38.20 135.5,38.05" stroke-width="1.0" opacity="0.85"/><path d="M-5,23.05 C39.1,23.05 52.2,22.30 71.8,22.45 S110.9,22.90 135.5,22.75" stroke-width="0.8" opacity="0.85"/><path d="M-5,58.65 C39.1,58.65 52.2,57.65 71.8,57.85 S110.9,58.45 135.5,58.25" stroke-width="0.9" opacity="0.85"/><path d="M-5,87.65 C39.1,87.65 52.2,86.65 71.8,86.85 S110.9,87.45 135.5,87.25" stroke-width="0.9" opacity="0.85"/><path d="M-5,110.05 C39.1,110.05 52.2,109.30 71.8,109.45 S110.9,109.90 135.5,109.75" stroke-width="0.9" opacity="0.85"/><path d="M-5,126.65 C39.1,126.65 52.2,125.65 71.8,125.85 S110.9,126.45 135.5,126.25" stroke-width="1.0" opacity="0.85"/><path d="M1,108.8 C3,118.8 6,125.8 11,131.8" stroke="#5a1008" stroke-width="1.5" opacity="0.8"/></g></svg><svg x="136" y="602.75" width="131" height="130.75" overflow="hidden"><rect x="-6" y="-6" width="143" height="142.75" fill="url(#tg1b)" filter="url(#tnoise)"/><g filter="url(#dblur)" fill="none" stroke="#141c0c"><path d="M-5,5.65 C39.3,5.65 52.4,4.15 72.1,4.45 S111.3,5.35 136.0,5.05" stroke-width="1.6" opacity="0.85"/><path d="M-5,12.65 C39.3,12.65 52.4,10.65 72.1,11.05 S111.3,12.25 136.0,11.85" stroke-width="1.6" opacity="0.85"/><path d="M-5,31.45 C39.3,31.45 52.4,29.95 72.1,30.25 S111.3,31.15 136.0,30.85" stroke-width="2.2" opacity="0.85"/><path d="M-5,55.05 C39.3,55.05 52.4,49.55 72.1,50.65 S111.3,53.95 136.0,52.85" stroke-width="5.875" opacity="0.85"/><path d="M-5,66.95 C39.3,66.95 52.4,65.45 72.1,65.75 S111.3,66.65 136.0,66.35" stroke-width="1.6" opacity="0.85"/><path d="M-5,82.75 C39.3,82.75 52.4,81.25 72.1,81.55 S111.3,82.45 136.0,82.15" stroke-width="1.6" opacity="0.85"/><path d="M-5,97.05 C39.3,97.05 52.4,94.05 72.1,94.65 S111.3,96.45 136.0,95.85" stroke-width="5.0" opacity="0.85"/><path d="M-5,118.85 C39.3,118.85 52.4,117.35 72.1,117.65 S111.3,118.55 136.0,118.25" stroke-width="2.0" opacity="0.85"/><path d="M-5,39.35 C39.3,39.35 52.4,38.60 72.1,38.75 S111.3,39.20 136.0,39.05" stroke-width="1.0" opacity="0.85"/><path d="M-5,24.05 C39.3,24.05 52.4,23.30 72.1,23.45 S111.3,23.90 136.0,23.75" stroke-width="0.8" opacity="0.85"/><path d="M-5,59.65 C39.3,59.65 52.4,58.65 72.1,58.85 S111.3,59.45 136.0,59.25" stroke-width="0.9" opacity="0.85"/><path d="M-5,88.65 C39.3,88.65 52.4,87.65 72.1,87.85 S111.3,88.45 136.0,88.25" stroke-width="0.9" opacity="0.85"/><path d="M-5,111.05 C39.3,111.05 52.4,110.30 72.1,110.45 S111.3,110.90 136.0,110.75" stroke-width="0.9" opacity="0.85"/><path d="M-5,127.65 C39.3,127.65 52.4,126.65 72.1,126.85 S111.3,127.45 136.0,127.25" stroke-width="1.0" opacity="0.85"/><path d="M5,51.0 C3,80 5,105 13,131.8" stroke="#5a1008" stroke-width="1.6" opacity="0.85"/><path d="M5,51.0 C8,49.0 12,47.0 16,48.0" stroke="#5a1008" stroke-width="1.0" opacity="0.6"/></g></svg><svg x="269.5" y="602.75" width="130.5" height="130.75" overflow="hidden"><rect x="-6" y="-6" width="142.5" height="142.75" fill="url(#tg2b)" filter="url(#tnoise)"/><g filter="url(#dblur)" fill="none" stroke="#141c0c"><path d="M-5,10.65 C39.1,10.65 52.2,9.15 71.8,9.45 S110.9,10.35 135.5,10.05" stroke-width="1.6" opacity="0.85"/><path d="M-5,17.65 C39.1,17.65 52.2,15.65 71.8,16.05 S110.9,17.25 135.5,16.85" stroke-width="1.6" opacity="0.85"/><path d="M-5,36.45 C39.1,36.45 52.2,34.95 71.8,35.25 S110.9,36.15 135.5,35.85" stroke-width="2.2" opacity="0.85"/><path d="M-5,60.05 C39.1,60.05 52.2,54.55 71.8,55.65 S110.9,58.95 135.5,57.85" stroke-width="6.625" opacity="0.85"/><path d="M-5,71.95 C39.1,71.95 52.2,70.45 71.8,70.75 S110.9,71.65 135.5,71.35" stroke-width="1.6" opacity="0.85"/><path d="M-5,87.75 C39.1,87.75 52.2,86.25 71.8,86.55 S110.9,87.45 135.5,87.15" stroke-width="1.6" opacity="0.85"/><path d="M-5,102.05 C39.1,102.05 52.2,99.05 71.8,99.65 S110.9,101.45 135.5,100.85" stroke-width="5.0" opacity="0.85"/><path d="M-5,123.85 C39.1,123.85 52.2,122.35 71.8,122.65 S110.9,123.55 135.5,123.25" stroke-width="2.0" opacity="0.85"/><path d="M-5,44.35 C39.1,44.35 52.2,43.60 71.8,43.75 S110.9,44.20 135.5,44.05" stroke-width="1.0" opacity="0.85"/><path d="M-5,29.05 C39.1,29.05 52.2,28.30 71.8,28.45 S110.9,28.90 135.5,28.75" stroke-width="0.8" opacity="0.85"/><path d="M-5,64.65 C39.1,64.65 52.2,63.65 71.8,63.85 S110.9,64.45 135.5,64.25" stroke-width="0.9" opacity="0.85"/><path d="M-5,93.65 C39.1,93.65 52.2,92.65 71.8,92.85 S110.9,93.45 135.5,93.25" stroke-width="0.9" opacity="0.85"/><path d="M-5,116.05 C39.1,116.05 52.2,115.30 71.8,115.45 S110.9,115.90 135.5,115.75" stroke-width="0.9" opacity="0.85"/><path d="M-5,132.65 C39.1,132.65 52.2,131.65 71.8,131.85 S110.9,132.45 135.5,132.25" stroke-width="1.0" opacity="0.85"/><path d="M5,56.0 C3,80 5,105 13,131.8" stroke="#5a1008" stroke-width="1.6" opacity="0.85"/><path d="M5,56.0 C8,54.0 12,52.0 16,53.0" stroke="#5a1008" stroke-width="1.0" opacity="0.6"/></g></svg><svg x="402" y="602.75" width="131" height="130.75" overflow="hidden"><rect x="-6" y="-6" width="143" height="142.75" fill="url(#tg3b)" filter="url(#tnoise)"/><g filter="url(#dblur)" fill="none" stroke="#141c0c"><path d="M-5,7.65 C39.3,7.65 52.4,6.15 72.1,6.45 S111.3,7.35 136.0,7.05" stroke-width="1.6" opacity="0.85"/><path d="M-5,14.65 C39.3,14.65 52.4,12.65 72.1,13.05 S111.3,14.25 136.0,13.85" stroke-width="1.6" opacity="0.85"/><path d="M-5,33.45 C39.3,33.45 52.4,31.95 72.1,32.25 S111.3,33.15 136.0,32.85" stroke-width="2.2" opacity="0.85"/><path d="M-5,57.05 C39.3,57.05 52.4,51.55 72.1,52.65 S111.3,55.95 136.0,54.85" stroke-width="7.45" opacity="0.85"/><path d="M-5,68.95 C39.3,68.95 52.4,67.45 72.1,67.75 S111.3,68.65 136.0,68.35" stroke-width="1.6" opacity="0.85"/><path d="M-5,84.75 C39.3,84.75 52.4,83.25 72.1,83.55 S111.3,84.45 136.0,84.15" stroke-width="1.6" opacity="0.85"/><path d="M-5,99.05 C39.3,99.05 52.4,96.05 72.1,96.65 S111.3,98.45 136.0,97.85" stroke-width="5.0" opacity="0.85"/><path d="M-5,120.85 C39.3,120.85 52.4,119.35 72.1,119.65 S111.3,120.55 136.0,120.25" stroke-width="2.0" opacity="0.85"/><path d="M-5,41.35 C39.3,41.35 52.4,40.60 72.1,40.75 S111.3,41.20 136.0,41.05" stroke-width="1.0" opacity="0.85"/><path d="M-5,26.05 C39.3,26.05 52.4,25.30 72.1,25.45 S111.3,25.90 136.0,25.75" stroke-width="0.8" opacity="0.85"/><path d="M-5,61.65 C39.3,61.65 52.4,60.65 72.1,60.85 S111.3,61.45 136.0,61.25" stroke-width="0.9" opacity="0.85"/><path d="M-5,90.65 C39.3,90.65 52.4,89.65 72.1,89.85 S111.3,90.45 136.0,90.25" stroke-width="0.9" opacity="0.85"/><path d="M-5,113.05 C39.3,113.05 52.4,112.30 72.1,112.45 S111.3,112.90 136.0,112.75" stroke-width="0.9" opacity="0.85"/><path d="M-5,129.65 C39.3,129.65 52.4,128.65 72.1,128.85 S111.3,129.45 136.0,129.25" stroke-width="1.0" opacity="0.85"/><path d="M5,53.0 C3,80 5,105 13,131.8" stroke="#5a1008" stroke-width="1.6" opacity="0.85"/><path d="M5,53.0 C8,51.0 12,49.0 16,50.0" stroke="#5a1008" stroke-width="1.0" opacity="0.6"/></g></svg><svg x="535.3" y="602.75" width="130.70000000000005" height="130.75" overflow="hidden"><rect x="-6" y="-6" width="142.70000000000005" height="142.75" fill="url(#tg4b)" filter="url(#tnoise)"/><g filter="url(#dblur)" fill="none" stroke="#141c0c"><path d="M-5,6.65 C39.2,6.65 52.3,5.15 71.9,5.45 S111.1,6.35 135.7,6.05" stroke-width="1.6" opacity="0.85"/><path d="M-5,13.65 C39.2,13.65 52.3,11.65 71.9,12.05 S111.1,13.25 135.7,12.85" stroke-width="1.6" opacity="0.85"/><path d="M-5,32.45 C39.2,32.45 52.3,30.95 71.9,31.25 S111.1,32.15 135.7,31.85" stroke-width="2.2" opacity="0.85"/><path d="M-5,56.05 C39.2,56.05 52.3,50.55 71.9,51.65 S111.1,54.95 135.7,53.85" stroke-width="7.7" opacity="0.85"/><path d="M-5,67.95 C39.2,67.95 52.3,66.45 71.9,66.75 S111.1,67.65 135.7,67.35" stroke-width="1.6" opacity="0.85"/><path d="M-5,83.75 C39.2,83.75 52.3,82.25 71.9,82.55 S111.1,83.45 135.7,83.15" stroke-width="1.6" opacity="0.85"/><path d="M-5,98.05 C39.2,98.05 52.3,95.05 71.9,95.65 S111.1,97.45 135.7,96.85" stroke-width="5.0" opacity="0.85"/><path d="M-5,119.85 C39.2,119.85 52.3,118.35 71.9,118.65 S111.1,119.55 135.7,119.25" stroke-width="2.0" opacity="0.85"/><path d="M-5,40.35 C39.2,40.35 52.3,39.60 71.9,39.75 S111.1,40.20 135.7,40.05" stroke-width="1.0" opacity="0.85"/><path d="M-5,25.05 C39.2,25.05 52.3,24.30 71.9,24.45 S111.1,24.90 135.7,24.75" stroke-width="0.8" opacity="0.85"/><path d="M-5,60.65 C39.2,60.65 52.3,59.65 71.9,59.85 S111.1,60.45 135.7,60.25" stroke-width="0.9" opacity="0.85"/><path d="M-5,89.65 C39.2,89.65 52.3,88.65 71.9,88.85 S111.1,89.45 135.7,89.25" stroke-width="0.9" opacity="0.85"/><path d="M-5,112.05 C39.2,112.05 52.3,111.30 71.9,111.45 S111.1,111.90 135.7,111.75" stroke-width="0.9" opacity="0.85"/><path d="M-5,128.65 C39.2,128.65 52.3,127.65 71.9,127.85 S111.1,128.45 135.7,128.25" stroke-width="1.0" opacity="0.85"/><path d="M5,52.0 C3,80 5,105 13,131.8" stroke="#5a1008" stroke-width="1.6" opacity="0.85"/><path d="M5,52.0 C8,50.0 12,48.0 16,49.0" stroke="#5a1008" stroke-width="1.0" opacity="0.6"/></g></svg><svg x="668.2" y="602.75" width="130.5" height="130.75" overflow="hidden"><rect x="-6" y="-6" width="142.5" height="142.75" fill="url(#tg5b)" filter="url(#tnoise)"/><g filter="url(#dblur)" fill="none" stroke="#141c0c"><path d="M-5,6.15 C39.1,6.15 52.2,4.65 71.8,4.95 S110.9,5.85 135.5,5.55" stroke-width="1.6" opacity="0.85"/><path d="M-5,13.15 C39.1,13.15 52.2,11.15 71.8,11.55 S110.9,12.75 135.5,12.35" stroke-width="1.6" opacity="0.85"/><path d="M-5,31.95 C39.1,31.95 52.2,30.45 71.8,30.75 S110.9,31.65 135.5,31.35" stroke-width="2.2" opacity="0.85"/><path d="M-5,55.55 C39.1,55.55 52.2,50.05 71.8,51.15 S110.9,54.45 135.5,53.35" stroke-width="8.0" opacity="0.85"/><path d="M-5,67.45 C39.1,67.45 52.2,65.95 71.8,66.25 S110.9,67.15 135.5,66.85" stroke-width="1.6" opacity="0.85"/><path d="M-5,83.25 C39.1,83.25 52.2,81.75 71.8,82.05 S110.9,82.95 135.5,82.65" stroke-width="1.6" opacity="0.85"/><path d="M-5,97.55 C39.1,97.55 52.2,94.55 71.8,95.15 S110.9,96.95 135.5,96.35" stroke-width="5.0" opacity="0.85"/><path d="M-5,119.35 C39.1,119.35 52.2,117.85 71.8,118.15 S110.9,119.05 135.5,118.75" stroke-width="2.0" opacity="0.85"/><path d="M-5,39.85 C39.1,39.85 52.2,39.10 71.8,39.25 S110.9,39.70 135.5,39.55" stroke-width="1.0" opacity="0.85"/><path d="M-5,24.55 C39.1,24.55 52.2,23.80 71.8,23.95 S110.9,24.40 135.5,24.25" stroke-width="0.8" opacity="0.85"/><path d="M-5,60.15 C39.1,60.15 52.2,59.15 71.8,59.35 S110.9,59.95 135.5,59.75" stroke-width="0.9" opacity="0.85"/><path d="M-5,89.15 C39.1,89.15 52.2,88.15 71.8,88.35 S110.9,88.95 135.5,88.75" stroke-width="0.9" opacity="0.85"/><path d="M-5,111.55 C39.1,111.55 52.2,110.80 71.8,110.95 S110.9,111.40 135.5,111.25" stroke-width="0.9" opacity="0.85"/><path d="M-5,128.15 C39.1,128.15 52.2,127.15 71.8,127.35 S110.9,127.95 135.5,127.75" stroke-width="1.0" opacity="0.85"/><path d="M5,51.5 C3,80 5,105 13,131.8" stroke="#5a1008" stroke-width="1.6" opacity="0.85"/><path d="M5,51.5 C8,49.5 12,47.5 16,48.5" stroke="#5a1008" stroke-width="1.0" opacity="0.6"/></g></svg></svg>
<svg style="position:absolute;left:0;top:0" width="800" height="800"><g transform="translate(53.35,309.45)" fill="#29a8e0"><circle cx="0" cy="0" r="4.6"/><path d="M-10.45,7.3 Q-10.45,5.6 -8.75,5.6 L8.75,5.6 Q10.45,5.6 10.45,7.3 L10.45,11.8 L-10.45,11.8 Z"/><rect x="-10.45" y="11" width="3.45" height="17.45" rx="1.7"/><rect x="7.0" y="11" width="3.45" height="17.45" rx="1.7"/><rect x="-6.35" y="11" width="12.7" height="18"/><rect x="-6.0" y="28" width="5.45" height="20.35" rx="0.8"/><rect x="0.55" y="28" width="5.45" height="20.35" rx="0.8"/></g><g transform="translate(53.35,365.60)" fill="#f7931e"><circle cx="0" cy="0" r="4.6"/><path d="M-10.45,7.3 Q-10.45,5.6 -8.75,5.6 L8.75,5.6 Q10.45,5.6 10.45,7.3 L10.45,11.8 L-10.45,11.8 Z"/><rect x="-10.45" y="11" width="3.45" height="17.45" rx="1.7"/><rect x="7.0" y="11" width="3.45" height="17.45" rx="1.7"/><rect x="-6.35" y="11" width="12.7" height="18"/><rect x="-6.0" y="28" width="5.45" height="20.35" rx="0.8"/><rect x="0.55" y="28" width="5.45" height="20.35" rx="0.8"/></g><g transform="translate(53.95,420.10)" fill="#29a8e0"><circle cx="0" cy="0" r="4.1"/><path d="M-7.2,7.6 Q-7.1,5.5 -5.2,5.5 L5.2,5.5 Q7.1,5.5 7.2,7.6 L7.3,9 L-7.3,9 Z"/><path d="M-7.3,8 L-4.7,8 L-6.8,25.2 Q-8.1,26.6 -9.5,25.2 Z"/><path d="M7.3,8 L4.7,8 L6.8,25.2 Q8.1,26.6 9.5,25.2 Z"/><path d="M-4.2,7 L4.2,7 L7.1,31 L-7.3,31 Z"/><rect x="-2.95" y="30" width="2.45" height="14.7" rx="1"/><rect x="0.5" y="30" width="2.45" height="14.7" rx="1"/></g><g transform="translate(53.95,471.60)" fill="#f7931e"><circle cx="0" cy="0" r="4.1"/><path d="M-7.2,7.6 Q-7.1,5.5 -5.2,5.5 L5.2,5.5 Q7.1,5.5 7.2,7.6 L7.3,9 L-7.3,9 Z"/><path d="M-7.3,8 L-4.7,8 L-6.8,25.2 Q-8.1,26.6 -9.5,25.2 Z"/><path d="M7.3,8 L4.7,8 L6.8,25.2 Q8.1,26.6 9.5,25.2 Z"/><path d="M-4.2,7 L4.2,7 L7.1,31 L-7.3,31 Z"/><rect x="-2.95" y="30" width="2.45" height="14.7" rx="1"/><rect x="0.5" y="30" width="2.45" height="14.7" rx="1"/></g><g transform="translate(86.55,309.45)" fill="#29a8e0"><circle cx="0" cy="0" r="4.6"/><path d="M-10.45,7.3 Q-10.45,5.6 -8.75,5.6 L8.75,5.6 Q10.45,5.6 10.45,7.3 L10.45,11.8 L-10.45,11.8 Z"/><rect x="-10.45" y="11" width="3.45" height="17.45" rx="1.7"/><rect x="7.0" y="11" width="3.45" height="17.45" rx="1.7"/><rect x="-6.35" y="11" width="12.7" height="18"/><rect x="-6.0" y="28" width="5.45" height="20.35" rx="0.8"/><rect x="0.55" y="28" width="5.45" height="20.35" rx="0.8"/></g><g transform="translate(86.55,365.60)" fill="#f7931e"><circle cx="0" cy="0" r="4.6"/><path d="M-10.45,7.3 Q-10.45,5.6 -8.75,5.6 L8.75,5.6 Q10.45,5.6 10.45,7.3 L10.45,11.8 L-10.45,11.8 Z"/><rect x="-10.45" y="11" width="3.45" height="17.45" rx="1.7"/><rect x="7.0" y="11" width="3.45" height="17.45" rx="1.7"/><rect x="-6.35" y="11" width="12.7" height="18"/><rect x="-6.0" y="28" width="5.45" height="20.35" rx="0.8"/><rect x="0.55" y="28" width="5.45" height="20.35" rx="0.8"/></g><g transform="translate(87.15,420.10)" fill="#29a8e0"><circle cx="0" cy="0" r="4.1"/><path d="M-7.2,7.6 Q-7.1,5.5 -5.2,5.5 L5.2,5.5 Q7.1,5.5 7.2,7.6 L7.3,9 L-7.3,9 Z"/><path d="M-7.3,8 L-4.7,8 L-6.8,25.2 Q-8.1,26.6 -9.5,25.2 Z"/><path d="M7.3,8 L4.7,8 L6.8,25.2 Q8.1,26.6 9.5,25.2 Z"/><path d="M-4.2,7 L4.2,7 L7.1,31 L-7.3,31 Z"/><rect x="-2.95" y="30" width="2.45" height="14.7" rx="1"/><rect x="0.5" y="30" width="2.45" height="14.7" rx="1"/></g><g transform="translate(87.15,471.60)" fill="#f7931e"><circle cx="0" cy="0" r="4.1"/><path d="M-7.2,7.6 Q-7.1,5.5 -5.2,5.5 L5.2,5.5 Q7.1,5.5 7.2,7.6 L7.3,9 L-7.3,9 Z"/><path d="M-7.3,8 L-4.7,8 L-6.8,25.2 Q-8.1,26.6 -9.5,25.2 Z"/><path d="M7.3,8 L4.7,8 L6.8,25.2 Q8.1,26.6 9.5,25.2 Z"/><path d="M-4.2,7 L4.2,7 L7.1,31 L-7.3,31 Z"/><rect x="-2.95" y="30" width="2.45" height="14.7" rx="1"/><rect x="0.5" y="30" width="2.45" height="14.7" rx="1"/></g><g transform="translate(119.75,309.45)" fill="#29a8e0"><circle cx="0" cy="0" r="4.6"/><path d="M-10.45,7.3 Q-10.45,5.6 -8.75,5.6 L8.75,5.6 Q10.45,5.6 10.45,7.3 L10.45,11.8 L-10.45,11.8 Z"/><rect x="-10.45" y="11" width="3.45" height="17.45" rx="1.7"/><rect x="7.0" y="11" width="3.45" height="17.45" rx="1.7"/><rect x="-6.35" y="11" width="12.7" height="18"/><rect x="-6.0" y="28" width="5.45" height="20.35" rx="0.8"/><rect x="0.55" y="28" width="5.45" height="20.35" rx="0.8"/></g><g transform="translate(119.75,365.60)" fill="#f7931e"><circle cx="0" cy="0" r="4.6"/><path d="M-10.45,7.3 Q-10.45,5.6 -8.75,5.6 L8.75,5.6 Q10.45,5.6 10.45,7.3 L10.45,11.8 L-10.45,11.8 Z"/><rect x="-10.45" y="11" width="3.45" height="17.45" rx="1.7"/><rect x="7.0" y="11" width="3.45" height="17.45" rx="1.7"/><rect x="-6.35" y="11" width="12.7" height="18"/><rect x="-6.0" y="28" width="5.45" height="20.35" rx="0.8"/><rect x="0.55" y="28" width="5.45" height="20.35" rx="0.8"/></g><g transform="translate(120.35,420.10)" fill="#29a8e0"><circle cx="0" cy="0" r="4.1"/><path d="M-7.2,7.6 Q-7.1,5.5 -5.2,5.5 L5.2,5.5 Q7.1,5.5 7.2,7.6 L7.3,9 L-7.3,9 Z"/><path d="M-7.3,8 L-4.7,8 L-6.8,25.2 Q-8.1,26.6 -9.5,25.2 Z"/><path d="M7.3,8 L4.7,8 L6.8,25.2 Q8.1,26.6 9.5,25.2 Z"/><path d="M-4.2,7 L4.2,7 L7.1,31 L-7.3,31 Z"/><rect x="-2.95" y="30" width="2.45" height="14.7" rx="1"/><rect x="0.5" y="30" width="2.45" height="14.7" rx="1"/></g><g transform="translate(120.35,471.60)" fill="#f7931e"><circle cx="0" cy="0" r="4.1"/><path d="M-7.2,7.6 Q-7.1,5.5 -5.2,5.5 L5.2,5.5 Q7.1,5.5 7.2,7.6 L7.3,9 L-7.3,9 Z"/><path d="M-7.3,8 L-4.7,8 L-6.8,25.2 Q-8.1,26.6 -9.5,25.2 Z"/><path d="M7.3,8 L4.7,8 L6.8,25.2 Q8.1,26.6 9.5,25.2 Z"/><path d="M-4.2,7 L4.2,7 L7.1,31 L-7.3,31 Z"/><rect x="-2.95" y="30" width="2.45" height="14.7" rx="1"/><rect x="0.5" y="30" width="2.45" height="14.7" rx="1"/></g><g transform="translate(152.95,309.45)" fill="#29a8e0"><circle cx="0" cy="0" r="4.6"/><path d="M-10.45,7.3 Q-10.45,5.6 -8.75,5.6 L8.75,5.6 Q10.45,5.6 10.45,7.3 L10.45,11.8 L-10.45,11.8 Z"/><rect x="-10.45" y="11" width="3.45" height="17.45" rx="1.7"/><rect x="7.0" y="11" width="3.45" height="17.45" rx="1.7"/><rect x="-6.35" y="11" width="12.7" height="18"/><rect x="-6.0" y="28" width="5.45" height="20.35" rx="0.8"/><rect x="0.55" y="28" width="5.45" height="20.35" rx="0.8"/></g><g transform="translate(152.95,365.60)" fill="#f7931e"><circle cx="0" cy="0" r="4.6"/><path d="M-10.45,7.3 Q-10.45,5.6 -8.75,5.6 L8.75,5.6 Q10.45,5.6 10.45,7.3 L10.45,11.8 L-10.45,11.8 Z"/><rect x="-10.45" y="11" width="3.45" height="17.45" rx="1.7"/><rect x="7.0" y="11" width="3.45" height="17.45" rx="1.7"/><rect x="-6.35" y="11" width="12.7" height="18"/><rect x="-6.0" y="28" width="5.45" height="20.35" rx="0.8"/><rect x="0.55" y="28" width="5.45" height="20.35" rx="0.8"/></g><g transform="translate(153.55,420.10)" fill="#29a8e0"><circle cx="0" cy="0" r="4.1"/><path d="M-7.2,7.6 Q-7.1,5.5 -5.2,5.5 L5.2,5.5 Q7.1,5.5 7.2,7.6 L7.3,9 L-7.3,9 Z"/><path d="M-7.3,8 L-4.7,8 L-6.8,25.2 Q-8.1,26.6 -9.5,25.2 Z"/><path d="M7.3,8 L4.7,8 L6.8,25.2 Q8.1,26.6 9.5,25.2 Z"/><path d="M-4.2,7 L4.2,7 L7.1,31 L-7.3,31 Z"/><rect x="-2.95" y="30" width="2.45" height="14.7" rx="1"/><rect x="0.5" y="30" width="2.45" height="14.7" rx="1"/></g><g transform="translate(153.55,471.60)" fill="#f7931e"><circle cx="0" cy="0" r="4.1"/><path d="M-7.2,7.6 Q-7.1,5.5 -5.2,5.5 L5.2,5.5 Q7.1,5.5 7.2,7.6 L7.3,9 L-7.3,9 Z"/><path d="M-7.3,8 L-4.7,8 L-6.8,25.2 Q-8.1,26.6 -9.5,25.2 Z"/><path d="M7.3,8 L4.7,8 L6.8,25.2 Q8.1,26.6 9.5,25.2 Z"/><path d="M-4.2,7 L4.2,7 L7.1,31 L-7.3,31 Z"/><rect x="-2.95" y="30" width="2.45" height="14.7" rx="1"/><rect x="0.5" y="30" width="2.45" height="14.7" rx="1"/></g><g transform="translate(186.15,309.45)" fill="#29a8e0"><circle cx="0" cy="0" r="4.6"/><path d="M-10.45,7.3 Q-10.45,5.6 -8.75,5.6 L8.75,5.6 Q10.45,5.6 10.45,7.3 L10.45,11.8 L-10.45,11.8 Z"/><rect x="-10.45" y="11" width="3.45" height="17.45" rx="1.7"/><rect x="7.0" y="11" width="3.45" height="17.45" rx="1.7"/><rect x="-6.35" y="11" width="12.7" height="18"/><rect x="-6.0" y="28" width="5.45" height="20.35" rx="0.8"/><rect x="0.55" y="28" width="5.45" height="20.35" rx="0.8"/></g><g transform="translate(186.15,365.60)" fill="#f7931e"><circle cx="0" cy="0" r="4.6"/><path d="M-10.45,7.3 Q-10.45,5.6 -8.75,5.6 L8.75,5.6 Q10.45,5.6 10.45,7.3 L10.45,11.8 L-10.45,11.8 Z"/><rect x="-10.45" y="11" width="3.45" height="17.45" rx="1.7"/><rect x="7.0" y="11" width="3.45" height="17.45" rx="1.7"/><rect x="-6.35" y="11" width="12.7" height="18"/><rect x="-6.0" y="28" width="5.45" height="20.35" rx="0.8"/><rect x="0.55" y="28" width="5.45" height="20.35" rx="0.8"/></g><g transform="translate(186.75,420.10)" fill="#29a8e0"><circle cx="0" cy="0" r="4.1"/><path d="M-7.2,7.6 Q-7.1,5.5 -5.2,5.5 L5.2,5.5 Q7.1,5.5 7.2,7.6 L7.3,9 L-7.3,9 Z"/><path d="M-7.3,8 L-4.7,8 L-6.8,25.2 Q-8.1,26.6 -9.5,25.2 Z"/><path d="M7.3,8 L4.7,8 L6.8,25.2 Q8.1,26.6 9.5,25.2 Z"/><path d="M-4.2,7 L4.2,7 L7.1,31 L-7.3,31 Z"/><rect x="-2.95" y="30" width="2.45" height="14.7" rx="1"/><rect x="0.5" y="30" width="2.45" height="14.7" rx="1"/></g><g transform="translate(186.75,471.60)" fill="#f7931e"><circle cx="0" cy="0" r="4.1"/><path d="M-7.2,7.6 Q-7.1,5.5 -5.2,5.5 L5.2,5.5 Q7.1,5.5 7.2,7.6 L7.3,9 L-7.3,9 Z"/><path d="M-7.3,8 L-4.7,8 L-6.8,25.2 Q-8.1,26.6 -9.5,25.2 Z"/><path d="M7.3,8 L4.7,8 L6.8,25.2 Q8.1,26.6 9.5,25.2 Z"/><path d="M-4.2,7 L4.2,7 L7.1,31 L-7.3,31 Z"/><rect x="-2.95" y="30" width="2.45" height="14.7" rx="1"/><rect x="0.5" y="30" width="2.45" height="14.7" rx="1"/></g><g transform="translate(219.35,309.45)" fill="#29a8e0"><circle cx="0" cy="0" r="4.6"/><path d="M-10.45,7.3 Q-10.45,5.6 -8.75,5.6 L8.75,5.6 Q10.45,5.6 10.45,7.3 L10.45,11.8 L-10.45,11.8 Z"/><rect x="-10.45" y="11" width="3.45" height="17.45" rx="1.7"/><rect x="7.0" y="11" width="3.45" height="17.45" rx="1.7"/><rect x="-6.35" y="11" width="12.7" height="18"/><rect x="-6.0" y="28" width="5.45" height="20.35" rx="0.8"/><rect x="0.55" y="28" width="5.45" height="20.35" rx="0.8"/></g><g transform="translate(219.35,365.60)" fill="#f7931e"><circle cx="0" cy="0" r="4.6"/><path d="M-10.45,7.3 Q-10.45,5.6 -8.75,5.6 L8.75,5.6 Q10.45,5.6 10.45,7.3 L10.45,11.8 L-10.45,11.8 Z"/><rect x="-10.45" y="11" width="3.45" height="17.45" rx="1.7"/><rect x="7.0" y="11" width="3.45" height="17.45" rx="1.7"/><rect x="-6.35" y="11" width="12.7" height="18"/><rect x="-6.0" y="28" width="5.45" height="20.35" rx="0.8"/><rect x="0.55" y="28" width="5.45" height="20.35" rx="0.8"/></g><g transform="translate(219.95,420.10)" fill="#29a8e0"><circle cx="0" cy="0" r="4.1"/><path d="M-7.2,7.6 Q-7.1,5.5 -5.2,5.5 L5.2,5.5 Q7.1,5.5 7.2,7.6 L7.3,9 L-7.3,9 Z"/><path d="M-7.3,8 L-4.7,8 L-6.8,25.2 Q-8.1,26.6 -9.5,25.2 Z"/><path d="M7.3,8 L4.7,8 L6.8,25.2 Q8.1,26.6 9.5,25.2 Z"/><path d="M-4.2,7 L4.2,7 L7.1,31 L-7.3,31 Z"/><rect x="-2.95" y="30" width="2.45" height="14.7" rx="1"/><rect x="0.5" y="30" width="2.45" height="14.7" rx="1"/></g><g transform="translate(219.95,471.60)" fill="#f7931e"><circle cx="0" cy="0" r="4.1"/><path d="M-7.2,7.6 Q-7.1,5.5 -5.2,5.5 L5.2,5.5 Q7.1,5.5 7.2,7.6 L7.3,9 L-7.3,9 Z"/><path d="M-7.3,8 L-4.7,8 L-6.8,25.2 Q-8.1,26.6 -9.5,25.2 Z"/><path d="M7.3,8 L4.7,8 L6.8,25.2 Q8.1,26.6 9.5,25.2 Z"/><path d="M-4.2,7 L4.2,7 L7.1,31 L-7.3,31 Z"/><rect x="-2.95" y="30" width="2.45" height="14.7" rx="1"/><rect x="0.5" y="30" width="2.45" height="14.7" rx="1"/></g></svg>
<svg style="position:absolute;left:0;top:0" width="800" height="800"><defs><linearGradient id="cyl" x1="0" y1="0" x2="0" y2="1"><stop offset="0" stop-color="#fdfd9e"/><stop offset="0.5" stop-color="#fdfd70"/><stop offset="1" stop-color="#ffff14"/></linearGradient><linearGradient id="cyltop" x1="0" y1="0" x2="0" y2="1"><stop offset="0" stop-color="#fdfdcc"/><stop offset="1" stop-color="#fcfca8"/></linearGradient><radialGradient id="capg" cx="0.45" cy="0.0" r="0.95"><stop offset="0" stop-color="#f2c2a4"/><stop offset="0.3" stop-color="#eccabc"/><stop offset="0.65" stop-color="#dfdfe6"/><stop offset="1" stop-color="#d6e6f8"/></radialGradient><radialGradient id="cresg" cx="0.5" cy="1.0" r="0.9" fx="0.55" fy="0.95"><stop offset="0" stop-color="#eea4a0"/><stop offset="1" stop-color="#fbe4e4"/></radialGradient><filter id="glow" x="-50%" y="-50%" width="200%" height="200%"><feGaussianBlur stdDeviation="8.5"/></filter></defs><circle cx="400" cy="400" r="132.6" fill="#e4e4e4" stroke="#ffffff" stroke-width="1.8"/><path filter="url(#glow)" fill="#eeea48" opacity="0.8" d="M276,356 A50,30 0 0 1 376,356 L376,438 A50,28 0 0 1 276,438 Z"/><path d="M286.1,358.7 L286.1,436.9 A40.15,19.4 0 0 0 366.4,436.9 L366.4,358.7 Z" fill="url(#cyl)" stroke="#fcc76a" stroke-width="3"/><ellipse cx="326.25" cy="358.7" rx="40.15" ry="19.4" fill="url(#cyltop)" stroke="#fcc76a" stroke-width="3"/><path d="M304.3,356.1 A23.4,27.2 0 0 1 351.1,356.1 L338.9,356.1 A11.3,15.8 0 0 0 316.3,356.1 Z" fill="#ffb800"/><path d="M369.5,390 C372,376 380,370 395,369 C405,368.5 413,372 420,381" fill="none" stroke="#a3a3a3" stroke-width="2.6"/><path d="M370.5,408 C375,404 385,403 396,405 C402,406.5 405,410 408,414.5" fill="none" stroke="#a3a3a3" stroke-width="2.6"/><path d="M414.3,401.6 C420,399.5 428,401 434.5,406.5 A35.1,21.3 0 0 0 499.3,406.5 C507,401 513,400 516.4,403.3 C524,407 528,412 525.7,420 C520,440 500,454 467.5,455.6 C440,455 418,446 410,428 C407,418 407,406 414.3,401.6 Z" fill="url(#cresg)" stroke="#a3a3a3" stroke-width="2.6"/><path d="M424.5,389 C418,384 418,372 422,365 C428,353 445,348.4 464,348.4 C482,348.4 498,352 506,362 C511,369 511,380 504.6,388.5 C502,390 498,389 494.7,386 A35.1,21.3 0 0 0 439.1,386 C435,389.5 428,390.5 424.5,389 Z" fill="url(#capg)" stroke="#a3a3a3" stroke-width="2.6"/><ellipse cx="466.9" cy="399" rx="35.1" ry="21.3" fill="#e2efda" stroke="#a3a3a3" stroke-width="3"/></svg>
<svg style="position:absolute;left:0;top:0" width="800" height="800"><defs><clipPath id="cp1"><rect x="540" y="310" width="170" height="96"/></clipPath></defs><g clip-path="url(#cp1)"><rect x="546.3" y="318.7" width="152.4" height="99.4" fill="#000"/><circle cx="555.50" cy="326.40" r="5.35" fill="#fbe5d6"/><circle cx="567.80" cy="326.40" r="5.35" fill="#f2f2f2"/><circle cx="580.10" cy="326.40" r="5.35" fill="#dae3f3"/><circle cx="592.40" cy="326.40" r="5.35" fill="#f2f2f2"/><circle cx="604.70" cy="326.40" r="5.35" fill="#f2f2f2"/><circle cx="617.00" cy="326.40" r="5.35" fill="#ffd04a"/><circle cx="629.30" cy="326.40" r="5.35" fill="#f2f2f2"/><circle cx="641.60" cy="326.40" r="5.35" fill="#f2f2f2"/><circle cx="653.90" cy="326.40" r="5.35" fill="#8faadc"/><circle cx="666.20" cy="326.40" r="5.35" fill="#dae3f3"/><circle cx="678.50" cy="326.40" r="5.35" fill="#f2f2f2"/><circle cx="690.80" cy="326.40" r="5.35" fill="#a9d18e"/><circle cx="555.50" cy="338.40" r="5.35" fill="#f2f2f2"/><circle cx="567.80" cy="338.40" r="5.35" fill="#f2f2f2"/><circle cx="580.10" cy="338.40" r="5.35" fill="#fbe5d6"/><circle cx="592.40" cy="338.40" r="5.35" fill="#f2f2f2"/><circle cx="604.70" cy="338.40" r="5.35" fill="#f4b183"/><circle cx="617.00" cy="338.40" r="5.35" fill="#f2f2f2"/><circle cx="629.30" cy="338.40" r="5.35" fill="#fbe5d6"/><circle cx="641.60" cy="338.40" r="5.35" fill="#f2f2f2"/><circle cx="653.90" cy="338.40" r="5.35" fill="#e2f0d9"/><circle cx="666.20" cy="338.40" r="5.35" fill="#f2f2f2"/><circle cx="678.50" cy="338.40" r="5.35" fill="#f2f2f2"/><circle cx="690.80" cy="338.40" r="5.35" fill="#f2f2f2"/><circle cx="555.50" cy="350.40" r="5.35" fill="#fbe5d6"/><circle cx="567.80" cy="350.40" r="5.35" fill="#dae3f3"/><circle cx="580.10" cy="350.40" r="5.35" fill="#f2f2f2"/><circle cx="592.40" cy="350.40" r="5.35" fill="#e2f0d9"/><circle cx="604.70" cy="350.40" r="5.35" fill="#ffd04a"/><circle cx="617.00" cy="350.40" r="5.35" fill="#f2f2f2"/><circle cx="629.30" cy="350.40" r="5.35" fill="#a9d18e"/><circle cx="641.60" cy="350.40" r="5.35" fill="#dae3f3"/><circle cx="653.90" cy="350.40" r="5.35" fill="#f2f2f2"/><circle cx="666.20" cy="350.40" r="5.35" fill="#f4b183"/><circle cx="678.50" cy="350.40" r="5.35" fill="#f2f2f2"/><circle cx="690.80" cy="350.40" r="5.35" fill="#fbe5d6"/><circle cx="555.50" cy="362.40" r="5.35" fill="#f2f2f2"/><circle cx="567.80" cy="362.40" r="5.35" fill="#ffd04a"/><circle cx="580.10" cy="362.40" r="5.35" fill="#8faadc"/><circle cx="592.40" cy="362.40" r="5.35" fill="#f2f2f2"/><circle cx="604.70" cy="362.40" r="5.35" fill="#f2f2f2"/><circle cx="617.00" cy="362.40" r="5.35" fill="#f2f2f2"/><circle cx="629.30" cy="362.40" r="5.35" fill="#f2f2f2"/><circle cx="641.60" cy="362.40" r="5.35" fill="#f2f2f2"/><circle cx="653.90" cy="362.40" r="5.35" fill="#f2f2f2"/><circle cx="666.20" cy="362.40" r="5.35" fill="#f2f2f2"/><circle cx="678.50" cy="362.40" r="5.35" fill="#f2f2f2"/><circle cx="690.80" cy="362.40" r="5.35" fill="#f2f2f2"/><circle cx="555.50" cy="374.40" r="5.35" fill="#f2f2f2"/><circle cx="567.80" cy="374.40" r="5.35" fill="#fff2cc"/><circle cx="580.10" cy="374.40" r="5.35" fill="#fbe5d6"/><circle cx="592.40" cy="374.40" r="5.35" fill="#f2f2f2"/><circle cx="604.70" cy="374.40" r="5.35" fill="#f2f2f2"/><circle cx="617.00" cy="374.40" r="5.35" fill="#f2f2f2"/><circle cx="629.30" cy="374.40" r="5.35" fill="#f2f2f2"/><circle cx="641.60" cy="374.40" r="5.35" fill="#f2f2f2"/><circle cx="653.90" cy="374.40" r="5.35" fill="#f2f2f2"/><circle cx="666.20" cy="374.40" r="5.35" fill="#f2f2f2"/><circle cx="678.50" cy="374.40" r="5.35" fill="#f2f2f2"/><circle cx="690.80" cy="374.40" r="5.35" fill="#f2f2f2"/><circle cx="555.50" cy="386.40" r="5.35" fill="#fbe5d6"/><circle cx="567.80" cy="386.40" r="5.35" fill="#f2f2f2"/><circle cx="580.10" cy="386.40" r="5.35" fill="#dae3f3"/><circle cx="592.40" cy="386.40" r="5.35" fill="#f2f2f2"/><circle cx="604.70" cy="386.40" r="5.35" fill="#f2f2f2"/><circle cx="617.00" cy="386.40" r="5.35" fill="#f2f2f2"/><circle cx="629.30" cy="386.40" r="5.35" fill="#f2f2f2"/><circle cx="641.60" cy="386.40" r="5.35" fill="#f2f2f2"/><circle cx="653.90" cy="386.40" r="5.35" fill="#f2f2f2"/><circle cx="666.20" cy="386.40" r="5.35" fill="#f2f2f2"/><circle cx="678.50" cy="386.40" r="5.35" fill="#f2f2f2"/><circle cx="690.80" cy="386.40" r="5.35" fill="#f2f2f2"/><circle cx="555.50" cy="398.40" r="5.35" fill="#f2f2f2"/><circle cx="567.80" cy="398.40" r="5.35" fill="#f2f2f2"/><circle cx="580.10" cy="398.40" r="5.35" fill="#f2f2f2"/><circle cx="592.40" cy="398.40" r="5.35" fill="#f2f2f2"/><circle cx="604.70" cy="398.40" r="5.35" fill="#f2f2f2"/><circle cx="617.00" cy="398.40" r="5.35" fill="#f2f2f2"/><circle cx="629.30" cy="398.40" r="5.35" fill="#f2f2f2"/><circle cx="641.60" cy="398.40" r="5.35" fill="#f2f2f2"/><circle cx="653.90" cy="398.40" r="5.35" fill="#f2f2f2"/><circle cx="666.20" cy="398.40" r="5.35" fill="#f2f2f2"/><circle cx="678.50" cy="398.40" r="5.35" fill="#f2f2f2"/><circle cx="690.80" cy="398.40" r="5.35" fill="#f2f2f2"/><circle cx="555.50" cy="410.40" r="5.35" fill="#dae3f3"/><circle cx="567.80" cy="410.40" r="5.35" fill="#f2f2f2"/><circle cx="580.10" cy="410.40" r="5.35" fill="#f2f2f2"/><circle cx="592.40" cy="410.40" r="5.35" fill="#f2f2f2"/><circle cx="604.70" cy="410.40" r="5.35" fill="#f2f2f2"/><circle cx="617.00" cy="410.40" r="5.35" fill="#f2f2f2"/><circle cx="629.30" cy="410.40" r="5.35" fill="#f2f2f2"/><circle cx="641.60" cy="410.40" r="5.35" fill="#f2f2f2"/><circle cx="653.90" cy="410.40" r="5.35" fill="#f2f2f2"/><circle cx="666.20" cy="410.40" r="5.35" fill="#f2f2f2"/><circle cx="678.50" cy="410.40" r="5.35" fill="#f2f2f2"/><circle cx="690.80" cy="410.40" r="5.35" fill="#f2f2f2"/></g><rect x="584" y="357" width="152.4" height="99.4" fill="#000"/><circle cx="593.20" cy="365.00" r="5.35" fill="#dae3f3"/><circle cx="605.50" cy="365.00" r="5.35" fill="#fbe5d6"/><circle cx="617.80" cy="365.00" r="5.35" fill="#dae3f3"/><circle cx="630.10" cy="365.00" r="5.35" fill="#f2f2f2"/><circle cx="642.40" cy="365.00" r="5.35" fill="#f2f2f2"/><circle cx="654.70" cy="365.00" r="5.35" fill="#ffd04a"/><circle cx="667.00" cy="365.00" r="5.35" fill="#ed7d31"/><circle cx="679.30" cy="365.00" r="5.35" fill="#fbe5d6"/><circle cx="691.60" cy="365.00" r="5.35" fill="#8faadc"/><circle cx="703.90" cy="365.00" r="5.35" fill="#dae3f3"/><circle cx="716.20" cy="365.00" r="5.35" fill="#f2f2f2"/><circle cx="728.50" cy="365.00" r="5.35" fill="#a9d18e"/><circle cx="593.20" cy="377.00" r="5.35" fill="#f2f2f2"/><circle cx="605.50" cy="377.00" r="5.35" fill="#ed7d31"/><circle cx="617.80" cy="377.00" r="5.35" fill="#dae3f3"/><circle cx="630.10" cy="377.00" r="5.35" fill="#fbe5d6"/><circle cx="642.40" cy="377.00" r="5.35" fill="#f4b183"/><circle cx="654.70" cy="377.00" r="5.35" fill="#f2f2f2"/><circle cx="667.00" cy="377.00" r="5.35" fill="#dae3f3"/><circle cx="679.30" cy="377.00" r="5.35" fill="#fbe5d6"/><circle cx="691.60" cy="377.00" r="5.35" fill="#e2f0d9"/><circle cx="703.90" cy="377.00" r="5.35" fill="#f2f2f2"/><circle cx="716.20" cy="377.00" r="5.35" fill="#f2f2f2"/><circle cx="728.50" cy="377.00" r="5.35" fill="#f2f2f2"/><circle cx="593.20" cy="389.00" r="5.35" fill="#dae3f3"/><circle cx="605.50" cy="389.00" r="5.35" fill="#dae3f3"/><circle cx="617.80" cy="389.00" r="5.35" fill="#f2f2f2"/><circle cx="630.10" cy="389.00" r="5.35" fill="#e2f0d9"/><circle cx="642.40" cy="389.00" r="5.35" fill="#ffd04a"/><circle cx="654.70" cy="389.00" r="5.35" fill="#f2f2f2"/><circle cx="667.00" cy="389.00" r="5.35" fill="#a9d18e"/><circle cx="679.30" cy="389.00" r="5.35" fill="#dae3f3"/><circle cx="691.60" cy="389.00" r="5.35" fill="#f2f2f2"/><circle cx="703.90" cy="389.00" r="5.35" fill="#f4b183"/><circle cx="716.20" cy="389.00" r="5.35" fill="#ed7d31"/><circle cx="728.50" cy="389.00" r="5.35" fill="#dae3f3"/><circle cx="593.20" cy="401.00" r="5.35" fill="#fbe5d6"/><circle cx="605.50" cy="401.00" r="5.35" fill="#ffd04a"/><circle cx="617.80" cy="401.00" r="5.35" fill="#8faadc"/><circle cx="630.10" cy="401.00" r="5.35" fill="#f2f2f2"/><circle cx="642.40" cy="401.00" r="5.35" fill="#f2f2f2"/><circle cx="654.70" cy="401.00" r="5.35" fill="#f2f2f2"/><circle cx="667.00" cy="401.00" r="5.35" fill="#f2f2f2"/><circle cx="679.30" cy="401.00" r="5.35" fill="#f2f2f2"/><circle cx="691.60" cy="401.00" r="5.35" fill="#f2f2f2"/><circle cx="703.90" cy="401.00" r="5.35" fill="#f2f2f2"/><circle cx="716.20" cy="401.00" r="5.35" fill="#f2f2f2"/><circle cx="728.50" cy="401.00" r="5.35" fill="#f2f2f2"/><circle cx="593.20" cy="413.00" r="5.35" fill="#f2f2f2"/><circle cx="605.50" cy="413.00" r="5.35" fill="#fff2cc"/><circle cx="617.80" cy="413.00" r="5.35" fill="#dae3f3"/><circle cx="630.10" cy="413.00" r="5.35" fill="#f2f2f2"/><circle cx="642.40" cy="413.00" r="5.35" fill="#f2f2f2"/><circle cx="654.70" cy="413.00" r="5.35" fill="#f2f2f2"/><circle cx="667.00" cy="413.00" r="5.35" fill="#f2f2f2"/><circle cx="679.30" cy="413.00" r="5.35" fill="#f2f2f2"/><circle cx="691.60" cy="413.00" r="5.35" fill="#f2f2f2"/><circle cx="703.90" cy="413.00" r="5.35" fill="#f2f2f2"/><circle cx="716.20" cy="413.00" r="5.35" fill="#f2f2f2"/><circle cx="728.50" cy="413.00" r="5.35" fill="#f2f2f2"/><circle cx="593.20" cy="425.00" r="5.35" fill="#dae3f3"/><circle cx="605.50" cy="425.00" r="5.35" fill="#fbe5d6"/><circle cx="617.80" cy="425.00" r="5.35" fill="#dae3f3"/><circle cx="630.10" cy="425.00" r="5.35" fill="#f2f2f2"/><circle cx="642.40" cy="425.00" r="5.35" fill="#f2f2f2"/><circle cx="654.70" cy="425.00" r="5.35" fill="#f2f2f2"/><circle cx="667.00" cy="425.00" r="5.35" fill="#f2f2f2"/><circle cx="679.30" cy="425.00" r="5.35" fill="#f2f2f2"/><circle cx="691.60" cy="425.00" r="5.35" fill="#f2f2f2"/><circle cx="703.90" cy="425.00" r="5.35" fill="#f2f2f2"/><circle cx="716.20" cy="425.00" r="5.35" fill="#f2f2f2"/><circle cx="728.50" cy="425.00" r="5.35" fill="#f2f2f2"/><circle cx="593.20" cy="437.00" r="5.35" fill="#f2f2f2"/><circle cx="605.50" cy="437.00" r="5.35" fill="#ed7d31"/><circle cx="617.80" cy="437.00" r="5.35" fill="#ed7d31"/><circle cx="630.10" cy="437.00" r="5.35" fill="#f2f2f2"/><circle cx="642.40" cy="437.00" r="5.35" fill="#f2f2f2"/><circle cx="654.70" cy="437.00" r="5.35" fill="#f2f2f2"/><circle cx="667.00" cy="437.00" r="5.35" fill="#f2f2f2"/><circle cx="679.30" cy="437.00" r="5.35" fill="#f2f2f2"/><circle cx="691.60" cy="437.00" r="5.35" fill="#f2f2f2"/><circle cx="703.90" cy="437.00" r="5.35" fill="#f2f2f2"/><circle cx="716.20" cy="437.00" r="5.35" fill="#f2f2f2"/><circle cx="728.50" cy="437.00" r="5.35" fill="#f2f2f2"/><circle cx="593.20" cy="449.00" r="5.35" fill="#dae3f3"/><circle cx="605.50" cy="449.00" r="5.35" fill="#fbe5d6"/><circle cx="617.80" cy="449.00" r="5.35" fill="#f2f2f2"/><circle cx="630.10" cy="449.00" r="5.35" fill="#f2f2f2"/><circle cx="642.40" cy="449.00" r="5.35" fill="#f2f2f2"/><circle cx="654.70" cy="449.00" r="5.35" fill="#f2f2f2"/><circle cx="667.00" cy="449.00" r="5.35" fill="#f2f2f2"/><circle cx="679.30" cy="449.00" r="5.35" fill="#f2f2f2"/><circle cx="691.60" cy="449.00" r="5.35" fill="#f2f2f2"/><circle cx="703.90" cy="449.00" r="5.35" fill="#f2f2f2"/><circle cx="716.20" cy="449.00" r="5.35" fill="#f2f2f2"/><circle cx="728.50" cy="449.00" r="5.35" fill="#f2f2f2"/><rect x="622" y="395.6" width="152.4" height="99.4" fill="#000"/><circle cx="631.20" cy="404.00" r="5.35" fill="#62a83e"/><circle cx="643.50" cy="404.00" r="5.35" fill="#fbe5d6"/><circle cx="655.80" cy="404.00" r="5.35" fill="#e2f0d9"/><circle cx="668.10" cy="404.00" r="5.35" fill="#ed7d31"/><circle cx="680.40" cy="404.00" r="5.35" fill="#f2f2f2"/><circle cx="692.70" cy="404.00" r="5.35" fill="#ffd04a"/><circle cx="705.00" cy="404.00" r="5.35" fill="#ed7d31"/><circle cx="717.30" cy="404.00" r="5.35" fill="#fbe5d6"/><circle cx="729.60" cy="404.00" r="5.35" fill="#8faadc"/><circle cx="741.90" cy="404.00" r="5.35" fill="#dae3f3"/><circle cx="754.20" cy="404.00" r="5.35" fill="#f2f2f2"/><circle cx="766.50" cy="404.00" r="5.35" fill="#a9d18e"/><circle cx="631.20" cy="416.00" r="5.35" fill="#f2f2f2"/><circle cx="643.50" cy="416.00" r="5.35" fill="#ed7d31"/><circle cx="655.80" cy="416.00" r="5.35" fill="#62a83e"/><circle cx="668.10" cy="416.00" r="5.35" fill="#62a83e"/><circle cx="680.40" cy="416.00" r="5.35" fill="#f4b183"/><circle cx="692.70" cy="416.00" r="5.35" fill="#fff2cc"/><circle cx="705.00" cy="416.00" r="5.35" fill="#62a83e"/><circle cx="717.30" cy="416.00" r="5.35" fill="#fbe5d6"/><circle cx="729.60" cy="416.00" r="5.35" fill="#e2f0d9"/><circle cx="741.90" cy="416.00" r="5.35" fill="#f2f2f2"/><circle cx="754.20" cy="416.00" r="5.35" fill="#f2f2f2"/><circle cx="766.50" cy="416.00" r="5.35" fill="#f2f2f2"/><circle cx="631.20" cy="428.00" r="5.35" fill="#dae3f3"/><circle cx="643.50" cy="428.00" r="5.35" fill="#dae3f3"/><circle cx="655.80" cy="428.00" r="5.35" fill="#f2f2f2"/><circle cx="668.10" cy="428.00" r="5.35" fill="#e2f0d9"/><circle cx="680.40" cy="428.00" r="5.35" fill="#ffd04a"/><circle cx="692.70" cy="428.00" r="5.35" fill="#f2f2f2"/><circle cx="705.00" cy="428.00" r="5.35" fill="#a9d18e"/><circle cx="717.30" cy="428.00" r="5.35" fill="#dae3f3"/><circle cx="729.60" cy="428.00" r="5.35" fill="#f2f2f2"/><circle cx="741.90" cy="428.00" r="5.35" fill="#f4b183"/><circle cx="754.20" cy="428.00" r="5.35" fill="#ed7d31"/><circle cx="766.50" cy="428.00" r="5.35" fill="#dae3f3"/><circle cx="631.20" cy="440.00" r="5.35" fill="#62a83e"/><circle cx="643.50" cy="440.00" r="5.35" fill="#ffd04a"/><circle cx="655.80" cy="440.00" r="5.35" fill="#8faadc"/><circle cx="668.10" cy="440.00" r="5.35" fill="#ed7d31"/><circle cx="680.40" cy="440.00" r="5.35" fill="#f2f2f2"/><circle cx="692.70" cy="440.00" r="5.35" fill="#fff2cc"/><circle cx="705.00" cy="440.00" r="5.35" fill="#fff2cc"/><circle cx="717.30" cy="440.00" r="5.35" fill="#f2f2f2"/><circle cx="729.60" cy="440.00" r="5.35" fill="#f2f2f2"/><circle cx="741.90" cy="440.00" r="5.35" fill="#fff2cc"/><circle cx="754.20" cy="440.00" r="5.35" fill="#f2f2f2"/><circle cx="766.50" cy="440.00" r="5.35" fill="#f2f2f2"/><circle cx="631.20" cy="452.00" r="5.35" fill="#ed7d31"/><circle cx="643.50" cy="452.00" r="5.35" fill="#fff2cc"/><circle cx="655.80" cy="452.00" r="5.35" fill="#dae3f3"/><circle cx="668.10" cy="452.00" r="5.35" fill="#a9d18e"/><circle cx="680.40" cy="452.00" r="5.35" fill="#f4b183"/><circle cx="692.70" cy="452.00" r="5.35" fill="#e2f0d9"/><circle cx="705.00" cy="452.00" r="5.35" fill="#f2f2f2"/><circle cx="717.30" cy="452.00" r="5.35" fill="#fbe5d6"/><circle cx="729.60" cy="452.00" r="5.35" fill="#dae3f3"/><circle cx="741.90" cy="452.00" r="5.35" fill="#ffd04a"/><circle cx="754.20" cy="452.00" r="5.35" fill="#a9d18e"/><circle cx="766.50" cy="452.00" r="5.35" fill="#fbe5d6"/><circle cx="631.20" cy="464.00" r="5.35" fill="#dae3f3"/><circle cx="643.50" cy="464.00" r="5.35" fill="#7cc242"/><circle cx="655.80" cy="464.00" r="5.35" fill="#dae3f3"/><circle cx="668.10" cy="464.00" r="5.35" fill="#f2f2f2"/><circle cx="680.40" cy="464.00" r="5.35" fill="#f2f2f2"/><circle cx="692.70" cy="464.00" r="5.35" fill="#fbe5d6"/><circle cx="705.00" cy="464.00" r="5.35" fill="#f2f2f2"/><circle cx="717.30" cy="464.00" r="5.35" fill="#e2f0d9"/><circle cx="729.60" cy="464.00" r="5.35" fill="#f2f2f2"/><circle cx="741.90" cy="464.00" r="5.35" fill="#f4b183"/><circle cx="754.20" cy="464.00" r="5.35" fill="#f2f2f2"/><circle cx="766.50" cy="464.00" r="5.35" fill="#f2f2f2"/><circle cx="631.20" cy="476.00" r="5.35" fill="#f2f2f2"/><circle cx="643.50" cy="476.00" r="5.35" fill="#7cc242"/><circle cx="655.80" cy="476.00" r="5.35" fill="#ed7d31"/><circle cx="668.10" cy="476.00" r="5.35" fill="#e2f0d9"/><circle cx="680.40" cy="476.00" r="5.35" fill="#dae3f3"/><circle cx="692.70" cy="476.00" r="5.35" fill="#f2f2f2"/><circle cx="705.00" cy="476.00" r="5.35" fill="#8faadc"/><circle cx="717.30" cy="476.00" r="5.35" fill="#fff2cc"/><circle cx="729.60" cy="476.00" r="5.35" fill="#dae3f3"/><circle cx="741.90" cy="476.00" r="5.35" fill="#f2f2f2"/><circle cx="754.20" cy="476.00" r="5.35" fill="#fff2cc"/><circle cx="766.50" cy="476.00" r="5.35" fill="#f2f2f2"/><circle cx="631.20" cy="488.00" r="5.35" fill="#dae3f3"/><circle cx="643.50" cy="488.00" r="5.35" fill="#fff2cc"/><circle cx="655.80" cy="488.00" r="5.35" fill="#f2f2f2"/><circle cx="668.10" cy="488.00" r="5.35" fill="#8faadc"/><circle cx="680.40" cy="488.00" r="5.35" fill="#f2f2f2"/><circle cx="692.70" cy="488.00" r="5.35" fill="#f2f2f2"/><circle cx="705.00" cy="488.00" r="5.35" fill="#dae3f3"/><circle cx="717.30" cy="488.00" r="5.35" fill="#f2f2f2"/><circle cx="729.60" cy="488.00" r="5.35" fill="#f2f2f2"/><circle cx="741.90" cy="488.00" r="5.35" fill="#f2f2f2"/><circle cx="754.20" cy="488.00" r="5.35" fill="#dae3f3"/><circle cx="766.50" cy="488.00" r="5.35" fill="#f2f2f2"/></svg>
<div style="position:absolute;left:302px;top:14.5px;font:bold 19.4px 'Liberation Sans', sans-serif;white-space:nowrap;color:#000;line-height:1;">Living cell lactate imaging</div>
<div style="position:absolute;left:27.5px;top:277px;font:bold 19.4px 'Liberation Sans', sans-serif;white-space:nowrap;color:#000;line-height:1;">Clinical sample analysis</div>
<div style="position:absolute;left:525px;top:277px;font:bold 19.4px 'Liberation Sans', sans-serif;white-space:nowrap;color:#000;line-height:1;">High-throughput screening</div>
<div style="position:absolute;left:335px;top:547.5px;font:bold 19.4px 'Liberation Sans', sans-serif;white-space:nowrap;color:#000;line-height:1;"><i>In vivo</i> lactate imaging</div>
<div style="position:absolute;left:295px;top:398px;font:bold 19.4px 'Liberation Sans', sans-serif;white-space:nowrap;color:#000;line-height:1;">cpYFP</div>
<div style="position:absolute;left:432px;top:391.5px;font:bold 19.4px 'Liberation Sans', sans-serif;white-space:nowrap;color:#000;line-height:1;">Lactate</div>
</body></html>
